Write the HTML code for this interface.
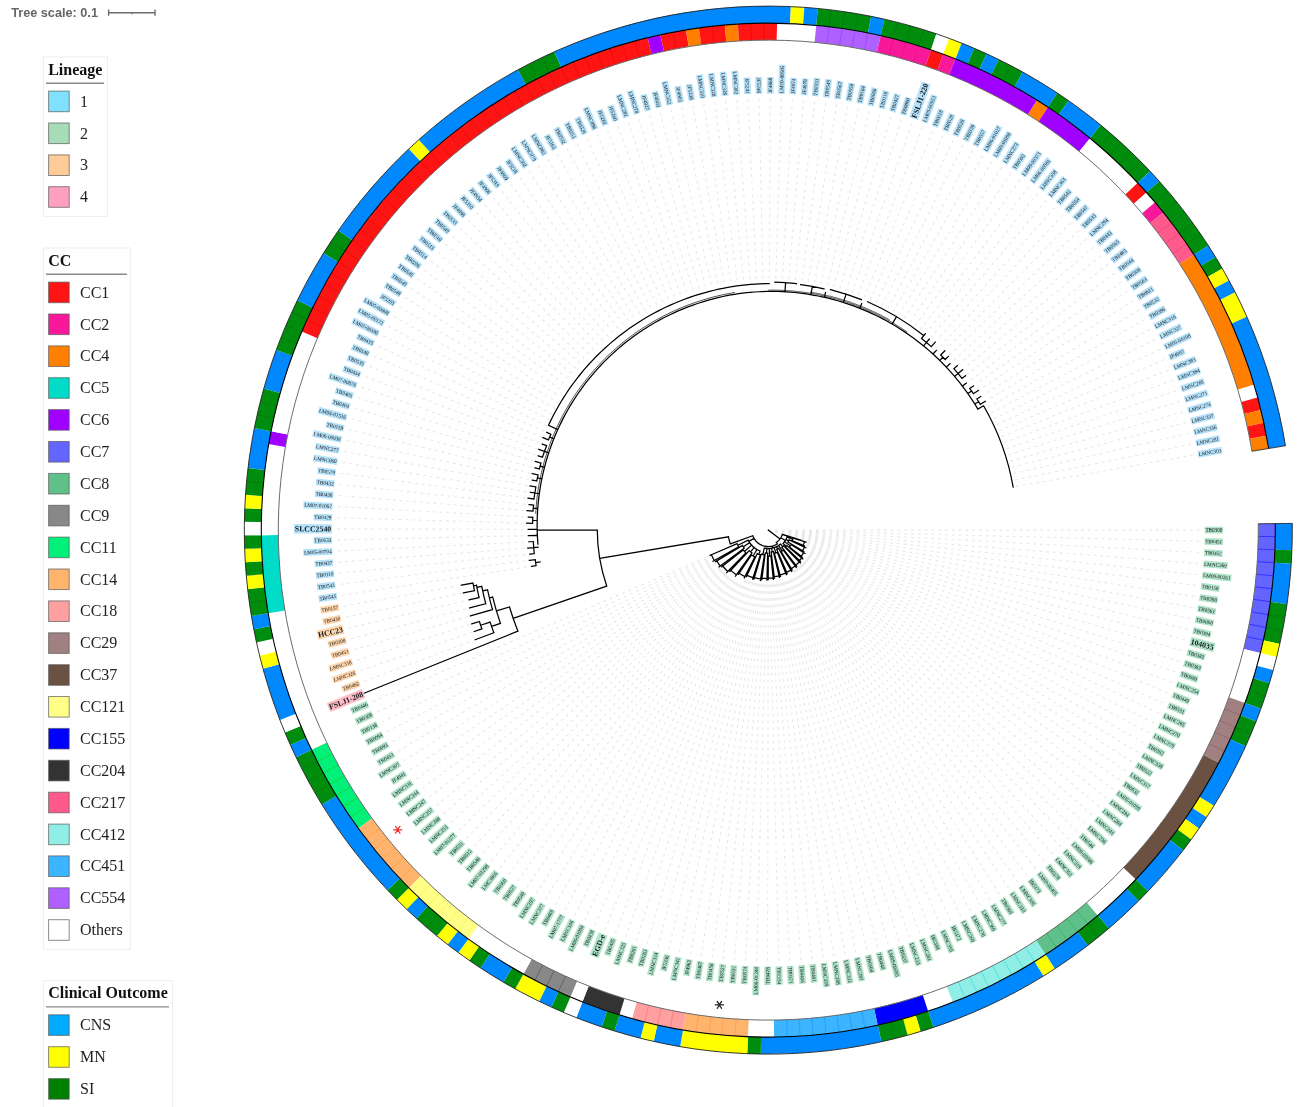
<!DOCTYPE html><html><head><meta charset="utf-8"><style>
html,body{margin:0;padding:0;background:#fff;}
body{width:1298px;height:1107px;overflow:hidden;position:relative;font-family:"Liberation Sans",sans-serif;}
svg{position:absolute;left:0;top:0;will-change:transform;}
</style></head><body>
<svg width="1298" height="1107" viewBox="0 0 1298 1107">
<path d="M775.10,530.10L1202.30,530.10M775.10,530.28L1202.16,541.29M775.09,530.45L1201.72,552.46M775.08,530.63L1201.00,563.63M775.06,530.80L1200.00,574.77M775.04,530.97L1198.70,585.88M775.02,531.15L1197.12,596.95M774.99,531.32L1195.26,607.98M774.96,531.49L1193.11,618.96M774.92,531.66L1190.68,629.88M774.88,531.83L1187.96,640.73M774.83,532.00L1184.97,651.51M807.16,542.52L1181.71,662.21M806.83,543.52L1178.16,672.82M806.47,544.51L1174.35,683.33M806.09,545.48L1170.27,693.75M805.68,546.45L1165.91,704.05M811.40,550.30L1161.30,714.24M810.87,551.40L1156.42,724.31M810.31,552.49L1151.29,734.25M809.71,553.57L1145.90,744.05M809.10,554.62L1140.26,753.71M808.45,555.67L1134.37,763.22M807.78,556.69L1128.25,772.58M807.08,557.70L1121.88,781.77M806.36,558.69L1115.27,790.80M805.61,559.66L1108.44,799.66M804.83,560.62L1101.38,808.33M804.03,561.55L1094.10,816.83M803.21,562.46L1086.60,825.13M802.36,563.35L1078.89,833.23M801.50,564.21L1070.98,841.14M800.61,565.06L1062.86,848.83M799.69,565.88L1054.55,856.32M798.76,566.68L1046.04,863.59M797.81,567.45L1037.36,870.64M796.84,568.20L1028.49,877.46M795.85,568.92L1019.45,884.05M794.84,569.62L1010.25,890.40M793.81,570.29L1000.88,896.52M792.76,570.93L991.36,902.39M795.05,577.47L981.69,908.02M793.82,578.14L971.88,913.39M792.57,578.79L961.94,918.51M791.31,579.39L951.86,923.37M790.03,579.97L941.66,927.97M788.74,580.51L931.35,932.31M787.43,581.02L920.93,936.37M786.11,581.50L910.41,940.17M784.78,581.94L899.80,943.70M783.44,582.35L889.09,946.95M782.09,582.72L878.31,949.93M780.73,583.06L867.45,952.62M779.36,583.36L856.53,955.04M777.98,583.63L845.55,957.17M776.60,583.86L834.52,959.02M775.21,584.06L823.44,960.58M773.82,584.22L812.33,961.86M772.42,584.34L801.19,962.85M771.02,584.43L790.02,963.56M769.62,584.48L778.85,963.97M768.22,584.50L767.66,964.10M766.82,584.48L756.48,963.94M765.42,584.42L745.30,963.49M764.02,584.33L734.14,962.75M762.62,584.20L723.00,961.73M761.23,584.04L711.89,960.42M759.84,583.84L700.82,958.82M758.46,583.60L689.79,956.94M757.08,583.33L678.82,954.77M755.72,583.02L667.90,952.33M754.36,582.68L657.05,949.60M753.01,582.31L646.28,946.59M751.66,581.89L635.59,943.31M750.34,581.45L624.98,939.75M749.02,580.97L614.47,935.92M747.71,580.45L604.06,931.82M746.42,579.91L593.76,927.46M745.15,579.33L583.58,922.83M740.83,584.79L573.52,917.94M739.43,584.06L563.59,912.79M738.05,583.30L553.80,907.38M736.69,582.51L544.14,901.73M735.35,581.67L534.64,895.83M734.03,580.81L525.29,889.69M732.74,579.91L516.11,883.31M731.47,578.97L507.09,876.69M730.22,578.01L498.24,869.84M729.00,577.01L489.58,862.77M727.80,575.98L481.09,855.47M726.63,574.92L472.80,847.96M725.49,573.83L464.71,840.24M724.38,572.72L456.82,832.32M723.29,571.57L449.13,824.19M722.24,570.40L441.66,815.87M721.22,569.20L434.40,807.35M720.22,567.97L427.37,798.65M713.82,570.79L420.56,789.78M712.78,569.37L413.98,780.73M711.79,567.93L407.64,771.52M710.84,566.46L401.54,762.14M709.92,564.96L395.68,752.61M709.04,563.45L390.07,742.94M708.20,561.91L384.71,733.12M707.40,560.35L379.61,723.16M706.64,558.77L374.76,713.08M705.92,557.17L370.17,702.88M468.95,642.06L361.80,682.13M472.59,632.09L358.02,671.61M470.06,624.44L354.51,660.99M467.73,616.72L351.27,650.28M465.60,608.94L348.31,639.49M463.67,601.12L345.63,628.63M461.94,593.24L343.23,617.71M453.72,586.52L341.12,606.72M526.31,567.09L339.28,595.69M525.44,560.85L337.74,584.61M524.73,554.58L336.47,573.49M524.18,548.29L335.50,562.35M523.79,541.99L334.81,551.19M523.56,535.69L334.41,540.01M523.50,529.38L334.30,528.82M523.60,523.07L334.48,517.64M523.86,516.77L334.94,506.46M524.29,510.47L335.70,495.30M524.88,504.19L336.74,484.16M525.62,497.92L338.07,473.06M526.53,491.68L339.68,461.99M527.60,485.46L341.58,450.96M528.83,479.27L343.76,439.99M530.22,473.12L346.22,429.08M531.77,467.00L348.96,418.24M533.48,460.93L351.99,407.47M535.34,454.90L355.29,396.78M537.35,448.92L358.86,386.18M539.52,442.99L362.70,375.67M541.84,437.13L366.82,365.27M544.31,431.32L371.20,354.98M546.93,425.58L375.84,344.80M549.70,419.91L380.75,334.75M552.61,414.31L385.91,324.83M555.67,408.79L391.33,315.04M558.87,403.35L397.00,305.40M556.48,394.33L402.91,295.90M560.05,388.92L409.07,286.56M563.75,383.60L415.47,277.39M567.60,378.37L422.10,268.38M571.57,373.25L428.96,259.54M575.68,368.23L436.04,250.89M579.92,363.32L443.35,242.42M584.28,358.52L450.87,234.14M588.76,353.84L458.60,226.05M593.36,349.27L466.54,218.17M598.08,344.82L474.68,210.50M602.91,340.49L483.02,203.04M607.86,336.30L491.54,195.80M612.90,332.22L500.25,188.77M618.05,328.29L509.13,181.98M623.31,324.48L518.19,175.41M628.65,320.81L527.42,169.09M634.09,317.28L536.80,163.00M639.62,313.89L546.34,157.15M645.24,310.65L556.02,151.56M650.93,307.55L565.85,146.21M656.71,304.60L575.81,141.12M662.56,301.80L585.90,136.29M668.48,299.15L596.11,131.72M674.46,296.65L606.43,127.42M680.51,294.31L616.86,123.38M686.61,292.13L627.40,119.61M692.77,290.10L638.02,116.11M698.99,288.24L648.73,112.89M705.24,286.53L659.53,109.95M711.54,284.99L670.39,107.29M717.88,283.60L681.32,104.91M724.25,282.39L692.31,102.80M730.64,281.33L703.34,100.99M737.07,280.45L714.43,99.46M743.51,279.72L725.54,98.21M749.97,279.17L736.69,97.25M756.45,278.78L747.85,96.58M762.93,278.56L759.03,96.20M769.41,278.50L770.22,96.10M775.90,278.61L781.40,96.30M782.37,278.89L792.58,96.78M788.84,279.34L803.74,97.55M795.30,279.95L814.87,98.61M801.74,280.73L825.98,99.95M808.15,281.68L837.04,101.58M814.54,282.79L848.07,103.49M820.90,284.06L859.03,105.69M827.22,285.50L869.94,108.17M833.51,287.10L880.78,110.93M839.75,288.86L891.55,113.97M845.94,290.78L902.23,117.28M852.08,292.86L912.83,120.87M858.17,295.10L923.32,124.73M864.20,297.49L933.72,128.86M870.16,300.04L944.01,133.26M876.06,302.74L954.17,137.92M881.88,305.60L964.22,142.84M887.63,308.60L974.14,148.02M893.30,311.75L983.91,153.45M898.88,315.04L993.55,159.13M904.38,318.48L1003.04,165.06M909.79,322.05L1012.37,171.23M915.11,325.77L1021.53,177.64M920.32,329.62L1030.53,184.28M929.69,328.30L1039.36,191.16M930.45,337.72L1048.00,198.25M939.87,336.88L1056.46,205.57M940.15,346.33L1064.73,213.11M949.60,345.98L1072.80,220.85M949.39,355.43L1080.67,228.80M953.83,360.16L1088.33,236.95M958.15,364.99L1095.78,245.30M967.58,365.61L1103.01,253.83M966.40,375.00L1110.02,262.55M970.34,380.15L1116.80,271.45M979.70,381.50L1123.35,280.51M983.46,387.00L1129.67,289.75M987.07,392.59L1135.74,299.14M990.54,398.27L1141.57,308.69M987.93,407.36L1147.15,318.38M991.02,413.06L1152.49,328.21M993.96,418.84L1157.56,338.18M996.76,424.69L1162.38,348.28M999.40,430.62L1166.93,358.49M1001.88,436.61L1171.22,368.83M1004.22,442.66L1175.25,379.26M1006.39,448.77L1179.00,389.80M1008.41,454.93L1182.48,400.43M1010.27,461.14L1185.68,411.15M1011.96,467.40L1188.61,421.95M1013.50,473.70L1191.26,432.81M1014.87,480.04L1193.62,443.75M1016.08,486.41L1195.71,454.74" fill="none" stroke="#e7e7e7" stroke-width="1.1" stroke-dasharray="2.8 4.0"/>
<path d="M768.30,530.10L780.04,538.95M782.36,534.40A14.7,14.7 0 0 1 776.31,542.43M793.07,538.01A26,26 0 0 1 792.12,540.52M793.07,538.01L804.50,541.67M792.12,540.52L803.11,545.33M804.50,541.67A38,38 0 0 1 803.11,545.33M804.50,541.67L805.93,542.12M803.11,545.33L804.49,545.93M787.01,537.16L792.63,539.28M789.13,539.86A23,23 0 0 1 788.01,541.95M789.13,539.86L804.52,547.07M788.01,541.95L802.58,550.71M804.52,547.07A40,40 0 0 1 802.58,550.71M804.52,547.07L805.88,547.71M802.58,550.71L803.87,551.48M785.95,539.51L788.60,540.92M791.07,544.60A27,27 0 0 1 789.46,546.87M791.07,544.60L803.73,552.66M789.46,546.87L801.22,556.19M803.73,552.66A42,42 0 0 1 801.22,556.19M803.73,552.66L804.99,553.47M801.22,556.19L802.39,557.12M784.59,541.70L790.30,545.76M786.72,545.49A24,24 0 0 1 785.48,546.86M786.72,545.49L801.68,557.99M785.48,546.86L799.43,560.48M801.68,557.99A43.5,43.5 0 0 1 799.43,560.48M801.68,557.99L802.84,558.95M799.43,560.48L800.50,561.53M783.14,543.51L786.11,546.19M787.01,537.16A20,20 0 0 1 783.14,543.51M783.31,534.69L800.81,540.04M783.29,534.77L800.76,540.21M780.85,537.75L785.37,540.51M783.64,545.87A22,22 0 0 1 781.94,547.36M783.64,545.87L799.33,561.99M781.94,547.36L795.89,565.02M799.33,561.99A44.5,44.5 0 0 1 795.89,565.02M799.33,561.99L800.38,563.07M795.89,565.02L796.82,566.19M780.50,544.01L782.81,546.64M783.29,550.11A25,25 0 0 1 781.15,551.55M783.29,550.11L795.28,566.12M781.15,551.55L791.43,568.70M795.28,566.12A45,45 0 0 1 791.43,568.70M795.28,566.12L796.18,567.32M791.43,568.70L792.20,569.99M778.61,545.46L782.24,550.85M778.63,548.39A21,21 0 0 1 776.69,549.35M778.63,548.39L790.92,570.16M776.69,549.35L786.68,572.27M790.92,570.16A46,46 0 0 1 786.68,572.27M790.92,570.16L791.66,571.46M786.68,572.27L787.27,573.65M776.55,546.66L777.67,548.89M777.32,552.34A24,24 0 0 1 774.38,553.32M777.32,552.34L785.77,573.19M774.38,553.32L780.09,575.08M785.77,573.19A46.5,46.5 0 0 1 780.09,575.08M785.77,573.19L786.33,574.58M780.09,575.08L780.47,576.53M774.13,547.66L775.87,552.88M773.33,551.52A22,22 0 0 1 771.10,551.92M773.33,551.52L779.04,575.86M771.10,551.92L774.27,576.72M779.04,575.86A47,47 0 0 1 774.27,576.72M779.04,575.86L779.38,577.32M774.27,576.72L774.46,578.21M771.59,548.30L772.22,551.75M770.94,555.97A26,26 0 0 1 768.26,556.10M770.94,555.97L773.17,577.85M768.26,556.10L768.23,578.10M773.17,577.85A48,48 0 0 1 768.23,578.10M773.17,577.85L773.32,579.34M768.23,578.10L768.23,579.60M769.23,548.58L769.60,556.07M767.67,553.09A23,23 0 0 1 765.31,552.90M767.67,553.09L766.98,578.58M765.31,552.90L762.00,578.19M766.98,578.58A48.5,48.5 0 0 1 762.00,578.19M766.98,578.58L766.94,580.08M762.00,578.19L761.80,579.68M766.84,548.54L766.49,553.03M764.41,554.80A25,25 0 0 1 761.27,554.09M764.41,554.80L760.60,579.00M761.27,554.09L754.38,577.60M760.60,579.00A49.5,49.5 0 0 1 754.38,577.60M760.60,579.00L760.37,580.48M754.38,577.60L753.96,579.04M764.25,548.15L762.83,554.49M780.50,544.01A18.5,18.5 0 0 1 764.25,548.15M760.35,554.85A26,26 0 0 1 757.23,553.63M760.35,554.85L753.01,577.70M757.23,553.63L747.02,575.35M753.01,577.70A50,50 0 0 1 747.02,575.35M753.01,577.70L752.55,579.13M747.02,575.35L746.38,576.70M760.05,551.03L758.77,554.29M754.84,556.91A30,30 0 0 1 751.50,554.96M754.84,556.91L744.96,576.57M751.50,554.96L739.18,573.18M744.96,576.57A52,52 0 0 1 739.18,573.18M744.96,576.57L744.29,577.91M739.18,573.18L738.34,574.43M756.93,549.51L753.14,555.99M752.03,552.89A28,28 0 0 1 749.24,550.61M752.03,552.89L736.34,574.86M749.24,550.61L730.85,570.38M736.34,574.86A55,55 0 0 1 730.85,570.38M736.34,574.86L735.47,576.08M730.85,570.38L729.83,571.48M754.07,547.53L750.60,551.79M745.92,552.97A32,32 0 0 1 743.16,549.90M745.92,552.97L727.73,571.55M743.16,549.90L722.74,565.99M727.73,571.55A58,58 0 0 1 722.74,565.99M727.73,571.55L726.68,572.62M722.74,565.99L721.56,566.92M751.56,545.13L744.49,551.48M744.26,548.05A30,30 0 0 1 742.54,545.48M744.26,548.05L720.23,566.00M742.54,545.48L716.79,560.86M720.23,566.00A60,60 0 0 1 716.79,560.86M720.23,566.00L719.02,566.90M716.79,560.86L715.50,561.63M749.60,542.62L743.37,546.79M738.67,546.77A34,34 0 0 1 737.11,543.64M738.67,546.77L714.27,560.51M737.11,543.64L711.42,554.78M714.27,560.51A62,62 0 0 1 711.42,554.78M714.27,560.51L712.96,561.24M711.42,554.78L710.05,555.38M748.15,540.11L737.85,545.22M760.05,551.03A22.5,22.5 0 0 1 748.15,540.11M776.31,542.43L777.29,543.94M777.29,543.94A16.5,16.5 0 0 1 754.01,538.35M772.38,546.09L772.87,548.03M754.01,538.35L748.81,541.35M753.09,546.68A22.5,22.5 0 0 1 748.81,541.35M752.80,535.74L730.34,543.92M754.01,538.35A16.5,16.5 0 0 1 752.80,535.74M730.34,543.92A40.4,40.4 0 0 1 728.45,536.77M728.45,536.77L599.65,558.32M606.71,586.05A171,171 0 0 1 597.30,530.10M597.30,530.10L538.00,530.10M606.71,586.05L513.16,618.45M517.93,631.16A270,270 0 0 1 509.49,607.01M517.93,631.16L363.99,693.29M509.49,607.01L496.45,610.88M500.47,623.37A283.6,283.6 0 0 1 492.71,597.03M500.47,623.37L491.60,626.46M493.87,632.74A293,293 0 0 1 490.12,622.10M493.87,632.74L475.13,639.75M490.12,622.10L480.62,625.24M481.86,628.89A303,303 0 0 1 479.41,621.48M481.86,628.89L474.30,631.50M479.41,621.48L471.78,623.89M492.71,597.03L489.41,597.83M492.52,609.57A287,287 0 0 1 487.57,589.77M492.52,609.57L470.42,615.94M487.57,589.77L482.68,590.81M485.73,603.70A292,292 0 0 1 481.76,586.32M485.73,603.70L469.66,607.88M481.76,586.32L476.86,587.28M479.06,597.53A297,297 0 0 1 476.46,585.24M479.06,597.53L469.02,599.87M476.46,585.24L473.52,585.80M474.48,590.66A300,300 0 0 1 473.01,583.06M474.48,590.66L463.41,592.94M473.01,583.06L461.30,585.17M537.93,544.19L537.64,540.33L537.42,536.47L537.26,532.61L537.17,528.74L537.14,524.87L537.18,520.99L537.28,517.12L537.45,513.25L537.68,509.38L537.98,505.51L538.34,501.65L538.76,497.79L539.26,493.94L539.81,490.09L540.43,486.26L541.12,482.43L541.86,478.62L542.68,474.81L543.55,471.02L544.50,467.24L545.50,463.48L546.57,459.74L547.70,456.01L548.89,452.30L550.15,448.60L551.46,444.93L552.84,441.28L554.28,437.65L555.79,434.05L557.35,430.47L558.97,426.91L560.66,423.39L562.40,419.88L564.20,416.41L566.06,412.97L567.98,409.56L569.95,406.17L571.99,402.83L574.08,399.51L576.22,396.23L578.42,392.98L580.68,389.77L582.99,386.60L585.35,383.47L587.77,380.37L590.24,377.31L592.76,374.30L595.33,371.33L597.95,368.39L600.63,365.51L603.35,362.66L606.12,359.86L608.93,357.11L611.80,354.41L614.71,351.75L617.66,349.14L620.66,346.57L623.70,344.06L626.79,341.60L629.91,339.19L633.08,336.83L636.29,334.53L639.54,332.27L642.82,330.07L646.15,327.93L649.51,325.84L652.90,323.81L656.34,321.83L659.80,319.91L663.30,318.05L666.83,316.25L670.39,314.50L673.98,312.82L677.60,311.19L681.24,309.63L684.92,308.12L688.62,306.68L692.34,305.30L696.09,303.98L699.87,302.72L703.66,301.53L707.48,300.40L711.31,299.33L715.16,298.33L719.03,297.39L722.92,296.51L726.82,295.70L730.74,294.96L734.67,294.28L738.62,293.67L742.57,293.15L746.54,292.70L750.51,292.31L754.49,292.00L758.48,291.75L762.47,291.56L766.46,291.44L770.46,291.39L774.46,291.41L778.46,291.49L782.45,291.65L786.45,291.86L790.44,292.15L794.43,292.50L798.41,292.92L802.38,293.40L806.35,293.95L810.31,294.57L814.25,295.26L818.19,296.01L822.12,296.82L826.03,297.71L829.92,298.65L833.80,299.67L837.67,300.75L841.52,301.89L845.34,303.10L849.15,304.37L852.94,305.70L856.70,307.10L860.45,308.57L864.16,310.09L867.85,311.68L871.52,313.33L875.16,315.04L878.77,316.81L882.35,318.64L885.90,320.54L889.42,322.49L892.91,324.50L896.36,326.57L899.78,328.70L903.16,330.89L906.51,333.13L909.82,335.43L913.09,337.78L916.32,340.19L919.51,342.66L922.67,345.17L925.78,347.74L928.84,350.37L931.86,353.04L934.84,355.77L937.78,358.54L940.66,361.37L943.50,364.24L946.29,367.16L949.04,370.13L951.73,373.14L954.37,376.20L956.96,379.31L959.51,382.45L961.99,385.64L964.43,388.88L966.81,392.15L969.13,395.46L971.40,398.82L973.62,402.21L975.78,405.64L977.88,409.10M557.71,429.66L548.52,425.27M548.52,425.27L550.49,421.13L552.53,417.03L554.65,412.96L556.85,408.94L559.13,404.95L561.48,401.01L563.90,397.12L566.40,393.27L568.97,389.46L571.61,385.71L574.32,382.00L577.11,378.34L579.96,374.74L582.88,371.19L585.86,367.70L588.91,364.26L592.03,360.88L595.21,357.55L598.45,354.29L601.76,351.09L605.12,347.95L608.55,344.87L612.03,341.86L615.57,338.92L619.16,336.04L622.81,333.22L626.52,330.48L630.27,327.80L634.07,325.20L637.93,322.67L641.83,320.21L645.77,317.82L649.77,315.51L653.80,313.27L657.88,311.11L662.00,309.03L666.16,307.02L670.36,305.09L674.59,303.24L678.86,301.47L683.16,299.78L687.49,298.18L691.85,296.65L696.25,295.20L700.67,293.84L705.11,292.56L709.58,291.37L714.07,290.25L718.59,289.23L723.12,288.28L727.67,287.43L732.24,286.66L736.82,285.97L741.41,285.37L746.02,284.86L750.63,284.43L755.26,284.10L759.89,283.84L764.52,283.68L769.16,283.60M774.79,282.18A248.0,248.0 0 0 1 796.37,283.69M784.97,291.77L785.60,282.70M800.61,284.72A247.5,247.5 0 0 1 823.98,288.94M810.87,294.67L812.34,286.55M830.52,289.52A248.5,248.5 0 0 1 861.39,299.69M843.36,302.46L846.12,294.10M867.59,301.75A249.0,249.0 0 0 1 923.31,335.23M892.11,324.04L896.54,316.67M977.88,409.10L983.59,405.80M983.59,405.80A248.6,248.6 0 0 1 1013.12,486.93M540.10,561.98L535.65,562.61M536.08,565.60A234.91385088168582,234.91385088168582 0 0 1 535.25,559.60M536.08,565.60L531.64,566.28M535.25,559.60L529.29,560.36M538.20,547.25L533.72,547.58M534.24,553.62A235.2339650252433,235.2339650252433 0 0 1 533.34,541.53M534.24,553.62L529.77,554.07M533.72,547.58L527.73,548.03M533.34,541.53L528.85,541.75M537.37,535.37L528.37,535.58M537.18,529.42L528.18,529.39M537.19,520.48L532.69,520.29M532.59,523.33A235.81017048364674,235.81017048364674 0 0 1 532.84,517.26M532.59,523.33L526.59,523.16M532.84,517.26L528.35,517.01M537.74,508.56L533.26,508.14M532.99,511.17A236.06626179849272,236.06626179849272 0 0 1 533.56,505.11M532.99,511.17L527.01,510.69M533.56,505.11L529.09,504.64M539.29,493.71L534.84,493.00M533.96,499.03A236.3863759420502,236.3863759420502 0 0 1 535.88,487.00M533.96,499.03L528.02,498.24M534.84,493.00L530.40,492.29M535.88,487.00L529.98,485.90M541.79,478.97L537.40,477.97M536.75,480.95A236.70649008560767,236.70649008560767 0 0 1 538.10,475.00M536.75,480.95L532.35,480.02M538.10,475.00L532.26,473.61M544.48,467.29L540.15,466.08M539.34,469.02A236.96258140045364,236.96258140045364 0 0 1 540.99,463.14M539.34,469.02L535.00,467.86M540.99,463.14L535.24,461.45M548.69,452.90L544.44,451.41M542.49,457.21A237.28269554401112,237.28269554401112 0 0 1 546.55,445.67M542.49,457.21L538.21,455.83M544.44,451.41L538.78,449.42M546.55,445.67L542.34,444.07M553.82,438.80L549.68,437.04M548.50,439.86A237.6028096875686,237.6028096875686 0 0 1 550.90,434.23M548.50,439.86L542.95,437.58M550.90,434.23L546.78,432.41M923.56,345.90L926.46,342.46M921.57,338.45A245.40251275269225,245.40251275269225 0 0 1 931.24,346.60M921.57,338.45L925.32,333.76M926.46,342.46L929.36,339.02M931.24,346.60L935.22,342.11M939.72,360.44L942.92,357.27M940.68,355.03A245.68795264185403,245.68795264185403 0 0 1 945.13,359.53M940.68,355.03L944.89,350.76M945.13,359.53L948.37,356.41M954.53,376.39L958.00,373.52M953.90,368.69A245.9733925310158,245.9733925310158 0 0 1 961.97,378.46M953.90,368.69L957.30,365.73M958.00,373.52L962.63,369.70M961.97,378.46L965.52,375.69M967.86,393.63L971.57,391.09M969.76,388.48A246.2588324201776,246.2588324201776 0 0 1 973.35,393.72M969.76,388.48L973.44,385.89M973.35,393.72L978.34,390.40M974.76,404.01L978.60,401.66M976.93,398.96A246.42194092827006,246.42194092827006 0 0 1 980.24,404.38M976.93,398.96L980.74,396.57M980.24,404.38L985.40,401.32M824.37,297.32L825.55,292.46M859.75,308.29L861.65,303.66M932.95,354.03L936.37,350.37M946.24,367.11L949.93,363.73M962.33,386.09L966.35,383.11" fill="none" stroke="#000" stroke-width="1.25" stroke-linecap="square"/>
<path d="M535.72,513.84L535.82,511.85L535.94,509.87L536.08,507.89L536.24,505.91L536.41,503.94L536.60,501.96L536.80,499.98L537.03,498.01L537.27,496.04L537.52,494.06L537.80,492.10L538.09,490.13L538.39,488.16L538.72,486.20L539.06,484.24L539.41,482.28L539.79,480.33L540.18,478.38L540.59,476.43L541.01,474.48L541.45,472.54L541.91,470.60L542.38,468.67L542.87,466.73L543.38,464.81L543.90,462.88L544.44,460.96L545.00,459.05L545.57,457.14L546.16,455.23L546.76,453.33L547.38,451.44L548.02,449.54L548.68,447.66L549.35,445.78L550.03,443.90L550.73,442.03L551.45,440.17L552.19,438.31L552.94,436.46L553.70,434.61L554.48,432.77L555.28,430.94L556.10,429.11L556.92,427.29L557.77,425.48L558.63,423.67L559.50,421.87L560.40,420.08L561.30,418.29L562.22,416.52L563.16,414.75L564.11,412.98L565.08,411.23L566.06,409.48L567.06,407.74L568.07,406.01L569.10,404.29L570.14,402.58L571.20,400.87L572.27,399.18L573.36,397.49L574.46,395.81L575.57,394.15L576.70,392.49L577.84,390.84L579.00,389.19L580.17,387.56L581.36,385.94L582.56,384.33L583.78,382.73L585.00,381.14L586.24,379.56L587.50,377.99L588.77,376.43L590.05,374.88L591.35,373.34L592.65,371.81L593.98,370.29L595.31,368.79L596.66,367.29L598.02,365.81L599.39,364.33L600.78,362.87L602.18,361.42L603.59,359.99L605.02,358.56L606.45,357.15L607.90,355.74L609.36,354.35L610.84,352.98L612.32,351.61L613.82,350.26L615.33,348.92L616.85,347.59L618.38,346.28L619.92,344.97L621.47,343.69L623.04,342.41L624.62,341.15L626.20,339.90L627.80,338.66L629.41,337.44L631.03,336.23L632.66,335.03L634.30,333.85L635.95,332.68L637.62,331.53L639.29,330.39L640.97,329.26L642.66,328.15L644.36,327.05L646.07,325.97L647.79,324.90L649.52,323.85L651.26,322.81L653.01,321.78L654.76,320.77L656.53,319.77L658.30,318.79L660.08,317.83L661.87,316.88L663.67,315.94L665.48,315.02L667.30,314.12L669.12,313.23L670.95,312.35L672.79,311.49L674.64,310.65L676.49,309.82L678.36,309.01L680.22,308.21L682.10,307.43L683.98,306.67L685.87,305.92L687.77,305.18L689.67,304.47L691.58,303.77L693.50,303.08L695.42,302.41L697.34,301.76L699.28,301.12L701.22,300.50L703.16,299.90L705.11,299.32L707.07,298.75L709.03,298.19L710.99,297.65L712.96,297.13L714.94,296.63L716.91,296.14L718.90,295.67L720.89,295.22L722.88,294.78L724.87,294.36L726.87,293.96L728.88,293.58L730.89,293.21L732.90,292.86L734.91,292.52M768.30,290.11L769.22,290.10L770.13,290.10L771.05,290.09L771.97,290.09L772.88,290.10L773.80,290.10L774.72,290.11L775.63,290.13L776.55,290.15L777.46,290.17L778.38,290.19L779.30,290.22L780.21,290.25L781.13,290.29L782.05,290.33L782.96,290.37L783.88,290.41L784.79,290.46L785.71,290.52L786.63,290.57L787.54,290.63L788.46,290.69L789.37,290.76L790.29,290.83L791.20,290.91L792.11,290.98L793.03,291.06L793.94,291.15L794.86,291.23L795.77,291.33L796.68,291.42L797.59,291.52L798.51,291.62L799.42,291.73L800.33,291.83L801.24,291.95L802.15,292.06L803.06,292.18L803.97,292.30L804.88,292.43L805.79,292.56L806.70,292.69L807.61,292.83L808.51,292.97L809.42,293.11L810.33,293.26L811.23,293.41L812.14,293.56L813.04,293.72L813.95,293.88L814.85,294.04L815.76,294.21L816.66,294.38L817.56,294.56L818.46,294.74L819.36,294.92L820.26,295.10L821.16,295.29L822.06,295.48L822.96,295.68L823.86,295.88L824.75,296.08L825.65,296.28L826.55,296.49L827.44,296.70L828.33,296.92L829.23,297.14L830.12,297.36L831.01,297.59L831.90,297.82L832.79,298.05L833.68,298.29L834.57,298.53L835.45,298.77L836.34,299.02L837.22,299.27L838.11,299.52L838.99,299.78L839.87,300.04L840.76,300.30L841.64,300.57L842.52,300.84L843.39,301.11L844.27,301.39L845.15,301.67L846.02,301.95L846.90,302.24L847.77,302.53L848.64,302.82L849.52,303.12L850.39,303.42L851.25,303.72L852.12,304.03L852.99,304.34L853.85,304.65L854.72,304.97L855.58,305.29L856.44,305.61L857.31,305.94L858.16,306.27L859.02,306.61L859.88,306.94L860.74,307.28L861.59,307.63L862.44,307.97L863.30,308.32L864.15,308.68L865.00,309.03L865.85,309.39L866.69,309.75L867.54,310.12L868.38,310.49L869.22,310.86L870.07,311.24L870.91,311.62L871.74,312.00L872.58,312.39L873.42,312.78L874.25,313.17L875.08,313.56L875.92,313.96L876.75,314.36L877.57,314.77L878.40,315.18L879.23,315.59L880.05,316.00L880.87,316.42L881.69,316.84L882.51,317.26L883.33,317.69L884.15,318.12L884.96,318.55L885.77,318.99L886.58,319.43L887.39,319.87L888.20,320.32L889.01,320.77L889.81,321.22L890.61,321.67L891.41,322.13L892.21,322.59L893.01,323.06L893.81,323.52L894.60,323.99L895.39,324.47L896.18,324.94L896.97,325.42L897.76,325.91L898.55,326.39L899.33,326.88L900.11,327.37L900.89,327.87L901.67,328.36L902.44,328.87L903.22,329.37L903.99,329.88L904.76,330.38L905.53,330.90L906.29,331.41L907.06,331.93M810.26,292.13L810.78,292.22L811.30,292.30L811.82,292.39L812.34,292.48L812.86,292.57L813.38,292.66L813.90,292.75L814.42,292.85L814.94,292.94L815.45,293.04L815.97,293.13L816.49,293.23L817.01,293.33L817.53,293.43L818.05,293.53L818.56,293.63L819.08,293.74L819.60,293.84L820.11,293.95L820.63,294.05L821.15,294.16L821.66,294.27L822.18,294.38L822.69,294.49L823.21,294.61L823.72,294.72L824.24,294.83L824.75,294.95L825.27,295.07L825.78,295.18L826.30,295.30L826.81,295.42L827.32,295.55L827.84,295.67L828.35,295.79L828.86,295.92L829.38,296.04L829.89,296.17L830.40,296.30L830.91,296.43L831.42,296.56L831.93,296.69L832.45,296.82L832.96,296.96L833.47,297.09L833.98,297.23L834.49,297.37L835.00,297.50L835.51,297.64L836.01,297.78L836.52,297.92L837.03,298.07L837.54,298.21L838.05,298.36L838.55,298.50L839.06,298.65L839.57,298.80L840.07,298.95L840.58,299.10L841.09,299.25L841.59,299.40L842.10,299.56L842.60,299.71L843.11,299.87L843.61,300.02L844.12,300.18L844.62,300.34L845.12,300.50L845.62,300.66L846.13,300.83L846.63,300.99L847.13,301.16L847.63,301.32L848.13,301.49L848.64,301.66L849.14,301.83L849.64,302.00L850.14,302.17L850.64,302.34L851.13,302.51L851.63,302.69L852.13,302.87L852.63,303.04L853.13,303.22L853.62,303.40L854.12,303.58L854.62,303.76L855.11,303.94L855.61,304.13L856.10,304.31L856.60,304.50L857.09,304.68L857.59,304.87L858.08,305.06L858.57,305.25L859.07,305.44L859.56,305.63L860.05,305.83L860.54,306.02L861.04,306.22L861.53,306.41L862.02,306.61L862.51,306.81L863.00,307.01L863.49,307.21L863.97,307.41L864.46,307.62L864.95,307.82L865.44,308.02L865.93,308.23L866.41,308.44L866.90,308.65L867.38,308.86L867.87,309.07L868.35,309.28L868.84,309.49L869.32,309.70L869.81,309.92L870.29,310.13L870.77,310.35L871.25,310.57L871.73,310.79L872.22,311.01L872.70,311.23L873.18,311.45L873.66,311.67L874.14,311.90L874.61,312.12L875.09,312.35L875.57,312.58L876.05,312.80L876.53,313.03L877.00,313.26L877.48,313.50L877.95,313.73L878.43,313.96L878.90,314.20L879.38,314.43L879.85,314.67L880.32,314.91L880.80,315.15L881.27,315.39L881.74,315.63L882.21,315.87L882.68,316.11L883.15,316.35L883.62,316.60L884.09,316.85L884.56,317.09L885.02,317.34L885.49,317.59L885.96,317.84L886.42,318.09L886.89,318.34L887.35,318.60L887.82,318.85L888.28,319.11L888.75,319.36L889.21,319.62L889.67,319.88" fill="none" stroke="#000" stroke-width="0.7"/>
<path d="M1275.26,523.57A507.0,507.0 0 0 1 1260.18,653.01L1243.68,648.89A490.0,490.0 0 0 0 1258.26,523.79Z" fill="#6464ff"/>
<path d="M1260.18,653.01A507.0,507.0 0 0 1 1244.92,702.98L1228.93,697.18A490.0,490.0 0 0 0 1243.68,648.89Z" fill="#ffffff"/>
<path d="M1244.92,702.98A507.0,507.0 0 0 1 1218.74,762.80L1203.64,755.00A490.0,490.0 0 0 0 1228.93,697.18Z" fill="#a08080"/>
<path d="M1218.74,762.80A507.0,507.0 0 0 1 1135.67,879.52L1123.35,867.80A490.0,490.0 0 0 0 1203.64,755.00Z" fill="#6b5142"/>
<path d="M1135.67,879.52A507.0,507.0 0 0 1 1097.75,915.47L1086.71,902.55A490.0,490.0 0 0 0 1123.35,867.80Z" fill="#ffffff"/>
<path d="M1097.75,915.47A507.0,507.0 0 0 1 1045.50,954.61L1036.20,940.38A490.0,490.0 0 0 0 1086.71,902.55Z" fill="#60c08a"/>
<path d="M1045.50,954.61A507.0,507.0 0 0 1 952.71,1002.37L946.53,986.54A490.0,490.0 0 0 0 1036.20,940.38Z" fill="#90eee6"/>
<path d="M952.71,1002.37A507.0,507.0 0 0 1 928.13,1011.25L922.77,995.12A490.0,490.0 0 0 0 946.53,986.54Z" fill="#ffffff"/>
<path d="M928.13,1011.25A507.0,507.0 0 0 1 877.76,1025.14L874.09,1008.54A490.0,490.0 0 0 0 922.77,995.12Z" fill="#0000ff"/>
<path d="M877.76,1025.14A507.0,507.0 0 0 1 774.09,1037.07L773.89,1020.07A490.0,490.0 0 0 0 874.09,1008.54Z" fill="#3cb4ff"/>
<path d="M774.09,1037.07A507.0,507.0 0 0 1 747.96,1036.69L748.64,1019.71A490.0,490.0 0 0 0 773.89,1020.07Z" fill="#ffffff"/>
<path d="M747.96,1036.69A507.0,507.0 0 0 1 683.02,1029.88L685.88,1013.12A490.0,490.0 0 0 0 748.64,1019.71Z" fill="#ffb46e"/>
<path d="M683.02,1029.88A507.0,507.0 0 0 1 632.04,1018.45L636.61,1002.07A490.0,490.0 0 0 0 685.88,1013.12Z" fill="#ffa0a0"/>
<path d="M632.04,1018.45A507.0,507.0 0 0 1 619.50,1014.77L624.49,998.52A490.0,490.0 0 0 0 636.61,1002.07Z" fill="#ffffff"/>
<path d="M619.50,1014.77A507.0,507.0 0 0 1 582.50,1001.83L588.73,986.01A490.0,490.0 0 0 0 624.49,998.52Z" fill="#333333"/>
<path d="M582.50,1001.83A507.0,507.0 0 0 1 570.41,996.88L577.04,981.23A490.0,490.0 0 0 0 588.73,986.01Z" fill="#ffffff"/>
<path d="M570.41,996.88A507.0,507.0 0 0 1 523.42,974.04L531.63,959.15A490.0,490.0 0 0 0 577.04,981.23Z" fill="#888888"/>
<path d="M523.42,974.04A507.0,507.0 0 0 1 468.39,938.88L478.45,925.18A490.0,490.0 0 0 0 531.63,959.15Z" fill="#ffffff"/>
<path d="M468.39,938.88A507.0,507.0 0 0 1 409.01,887.81L421.05,875.82A490.0,490.0 0 0 0 478.45,925.18Z" fill="#ffff88"/>
<path d="M409.01,887.81A507.0,507.0 0 0 1 358.19,828.20L371.95,818.20A490.0,490.0 0 0 0 421.05,875.82Z" fill="#ffb46e"/>
<path d="M358.19,828.20A507.0,507.0 0 0 1 311.36,749.77L326.68,742.40A490.0,490.0 0 0 0 371.95,818.20Z" fill="#00f07a"/>
<path d="M311.36,749.77A507.0,507.0 0 0 1 268.15,613.17L284.92,610.39A490.0,490.0 0 0 0 326.68,742.40Z" fill="#ffffff"/>
<path d="M268.15,613.17A507.0,507.0 0 0 1 261.33,535.14L278.32,534.97A490.0,490.0 0 0 0 284.92,610.39Z" fill="#00dcc8"/>
<path d="M261.33,535.14A507.0,507.0 0 0 1 268.65,444.08L285.40,446.97A490.0,490.0 0 0 0 278.32,534.97Z" fill="#ffffff"/>
<path d="M268.65,444.08A507.0,507.0 0 0 1 271.03,431.23L287.71,434.55A490.0,490.0 0 0 0 285.40,446.97Z" fill="#a000ff"/>
<path d="M271.03,431.23A507.0,507.0 0 0 1 301.81,331.52L317.45,338.18A490.0,490.0 0 0 0 287.71,434.55Z" fill="#ffffff"/>
<path d="M301.81,331.52A507.0,507.0 0 0 1 647.57,37.69L651.61,54.20A490.0,490.0 0 0 0 317.45,338.18Z" fill="#ff1414"/>
<path d="M647.57,37.69A507.0,507.0 0 0 1 660.30,34.74L663.92,51.35A490.0,490.0 0 0 0 651.61,54.20Z" fill="#a000ff"/>
<path d="M660.30,34.74A507.0,507.0 0 0 1 685.97,29.83L688.73,46.60A490.0,490.0 0 0 0 663.92,51.35Z" fill="#ff1414"/>
<path d="M685.97,29.83A507.0,507.0 0 0 1 698.89,27.87L701.21,44.71A490.0,490.0 0 0 0 688.73,46.60Z" fill="#ff8000"/>
<path d="M698.89,27.87A507.0,507.0 0 0 1 724.86,24.96L726.31,41.90A490.0,490.0 0 0 0 701.21,44.71Z" fill="#ff1414"/>
<path d="M724.86,24.96A507.0,507.0 0 0 1 737.89,24.01L738.91,40.98A490.0,490.0 0 0 0 726.31,41.90Z" fill="#ff8000"/>
<path d="M737.89,24.01A507.0,507.0 0 0 1 777.07,23.18L776.78,40.17A490.0,490.0 0 0 0 738.91,40.98Z" fill="#ff1414"/>
<path d="M777.07,23.18A507.0,507.0 0 0 1 816.21,25.37L814.60,42.29A490.0,490.0 0 0 0 776.78,40.17Z" fill="#ffffff"/>
<path d="M816.21,25.37A507.0,507.0 0 0 1 880.68,35.71L876.91,52.29A490.0,490.0 0 0 0 814.60,42.29Z" fill="#b060ff"/>
<path d="M880.68,35.71A507.0,507.0 0 0 1 930.96,49.90L925.51,66.00A490.0,490.0 0 0 0 876.91,52.29Z" fill="#f8189a"/>
<path d="M930.96,49.90A507.0,507.0 0 0 1 943.28,54.25L937.41,70.21A490.0,490.0 0 0 0 925.51,66.00Z" fill="#ff1414"/>
<path d="M943.28,54.25A507.0,507.0 0 0 1 955.49,58.92L949.21,74.72A490.0,490.0 0 0 0 937.41,70.21Z" fill="#f8189a"/>
<path d="M955.49,58.92A507.0,507.0 0 0 1 1037.00,100.16L1027.99,114.58A490.0,490.0 0 0 0 949.21,74.72Z" fill="#a000ff"/>
<path d="M1037.00,100.16A507.0,507.0 0 0 1 1047.99,107.23L1038.61,121.41A490.0,490.0 0 0 0 1027.99,114.58Z" fill="#ff8000"/>
<path d="M1047.99,107.23A507.0,507.0 0 0 1 1090.03,138.26L1079.24,151.40A490.0,490.0 0 0 0 1038.61,121.41Z" fill="#a000ff"/>
<path d="M1090.03,138.26A507.0,507.0 0 0 1 1137.72,182.86L1125.33,194.50A490.0,490.0 0 0 0 1079.24,151.40Z" fill="#ffffff"/>
<path d="M1137.72,182.86A507.0,507.0 0 0 1 1146.54,192.49L1133.86,203.81A490.0,490.0 0 0 0 1125.33,194.50Z" fill="#ff1414"/>
<path d="M1146.54,192.49A507.0,507.0 0 0 1 1155.12,202.35L1142.15,213.34A490.0,490.0 0 0 0 1133.86,203.81Z" fill="#ffffff"/>
<path d="M1155.12,202.35A507.0,507.0 0 0 1 1163.44,212.43L1150.19,223.08A490.0,490.0 0 0 0 1142.15,213.34Z" fill="#f8189a"/>
<path d="M1163.44,212.43A507.0,507.0 0 0 1 1194.03,254.78L1179.76,264.01A490.0,490.0 0 0 0 1150.19,223.08Z" fill="#ff5a8c"/>
<path d="M1194.03,254.78A507.0,507.0 0 0 1 1254.05,384.87L1237.77,389.74A490.0,490.0 0 0 0 1179.76,264.01Z" fill="#ff8000"/>
<path d="M1254.05,384.87A507.0,507.0 0 0 1 1257.64,397.44L1241.23,401.89A490.0,490.0 0 0 0 1237.77,389.74Z" fill="#ffffff"/>
<path d="M1257.64,397.44A507.0,507.0 0 0 1 1260.89,410.09L1244.38,414.12A490.0,490.0 0 0 0 1241.23,401.89Z" fill="#ff1414"/>
<path d="M1260.89,410.09A507.0,507.0 0 0 1 1263.82,422.83L1247.21,426.42A490.0,490.0 0 0 0 1244.38,414.12Z" fill="#ff8000"/>
<path d="M1263.82,422.83A507.0,507.0 0 0 1 1266.42,435.63L1249.72,438.80A490.0,490.0 0 0 0 1247.21,426.42Z" fill="#ff1414"/>
<path d="M1266.42,435.63A507.0,507.0 0 0 1 1268.69,448.50L1251.91,451.24A490.0,490.0 0 0 0 1249.72,438.80Z" fill="#ff8000"/>
<path d="M1258.26,536.41L1275.26,536.63M1257.93,549.04L1274.92,549.70M1257.28,561.65L1274.25,562.75M1256.31,574.24L1273.24,575.78M1255.01,586.81L1271.89,588.77M1253.38,599.33L1270.21,601.73M1251.44,611.81L1268.20,614.64M1249.17,624.23L1265.86,627.50M1246.59,636.60L1263.18,640.29" stroke="#2020ff" stroke-width="0.7" fill="none"/>
<path d="M1224.48,709.00L1240.30,715.20M1219.71,720.69L1235.37,727.31M1214.65,732.26L1230.14,739.28M1209.29,743.70L1224.59,751.11" stroke="#906060" stroke-width="0.7" fill="none"/>
<path d="M1077.00,910.63L1087.71,923.83M1067.09,918.46L1077.46,931.93M1056.99,926.03L1067.00,939.77M1046.69,933.34L1056.34,947.33" stroke="#30b060" stroke-width="0.7" fill="none"/>
<path d="M1025.54,947.15L1034.46,961.62M1014.70,953.64L1023.25,968.33M1003.71,959.85L1011.87,974.76M992.55,965.77L1000.33,980.89M981.25,971.41L988.64,986.72M969.81,976.75L976.80,992.24M958.23,981.79L964.82,997.46" stroke="#30e0e0" stroke-width="0.7" fill="none"/>
<path d="M861.73,1011.11L864.97,1027.80M849.30,1013.36L852.11,1030.13M836.82,1015.29L839.19,1032.12M824.29,1016.89L826.23,1033.78M811.73,1018.17L813.23,1035.11M799.13,1019.13L800.20,1036.10M786.52,1019.76L787.15,1036.75" stroke="#109cff" stroke-width="0.7" fill="none"/>
<path d="M736.03,1019.04L734.91,1036.00M723.44,1018.04L721.88,1034.97M710.88,1016.72L708.88,1033.61M698.35,1015.08L695.93,1031.91M412.26,866.75L399.91,878.43M403.70,857.46L391.05,868.82M395.38,847.96L382.45,858.99M387.32,838.24L374.10,848.93M379.50,828.32L366.01,838.67" stroke="#ff9a40" stroke-width="0.7" fill="none"/>
<path d="M673.46,1010.83L670.17,1027.51M661.10,1008.23L657.38,1024.82M648.81,1005.31L644.67,1021.80" stroke="#ff7070" stroke-width="0.7" fill="none"/>
<path d="M565.48,976.15L558.44,991.63M554.05,970.78L546.62,986.07M542.76,965.11L534.94,980.20" stroke="#555555" stroke-width="0.7" fill="none"/>
<path d="M468.36,917.58L457.96,931.02M458.48,909.72L447.73,922.89M448.80,901.61L437.71,914.50M439.33,893.25L427.91,905.85M430.08,884.65L418.34,896.95" stroke="#f0f060" stroke-width="0.7" fill="none"/>
<path d="M364.65,807.89L350.65,817.53M357.63,797.40L343.38,806.67M350.87,786.72L336.39,795.63M344.40,775.88L329.69,784.41M338.21,764.87L323.28,773.02M332.30,753.71L317.17,761.47" stroke="#20d020" stroke-width="0.7" fill="none"/>
<path d="M322.55,326.62L307.08,319.56M327.94,315.20L312.66,307.75M333.62,303.92L318.54,296.08M339.60,292.80L324.72,284.56M345.85,281.83L331.20,273.21M352.39,271.02L337.96,262.03M359.21,260.39L345.02,251.03M366.30,249.94L352.35,240.21M373.65,239.67L359.96,229.59M381.27,229.59L367.84,219.17M389.14,219.72L375.98,208.95M397.26,210.05L384.39,198.95M405.64,200.59L393.05,189.16M414.25,191.36L401.96,179.60M423.10,182.34L411.12,170.28M432.17,173.56L420.51,161.19M441.47,165.02L430.13,152.35M450.99,156.72L439.98,143.76M460.72,148.66L450.05,135.43M470.65,140.86L460.32,127.36M480.78,133.32L470.81,119.56M491.10,126.04L481.49,112.02M501.61,119.03L492.36,104.77M512.29,112.30L503.41,97.80M523.14,105.84L514.64,91.12M534.16,99.66L526.04,84.73M545.33,93.77L537.59,78.63M556.65,88.17L549.31,72.84M568.11,82.86L561.16,67.34M579.70,77.85L573.16,62.16M591.42,73.14L585.28,57.29M603.26,68.73L597.53,52.73M615.20,64.63L609.89,48.48M627.25,60.84L622.35,44.56M639.39,57.36L634.92,40.96M676.29,48.82L673.10,32.12M713.74,43.15L711.85,26.25M751.52,40.39L750.94,23.40M764.15,40.12L764.01,23.12" stroke="#e00a0a" stroke-width="0.7" fill="none"/>
<path d="M827.16,43.65L829.20,26.77M839.67,45.33L842.15,28.51M852.14,47.33L855.05,30.58M864.56,49.65L867.90,32.98" stroke="#9040ff" stroke-width="0.7" fill="none"/>
<path d="M889.19,55.25L893.38,38.77M901.38,58.52L906.00,42.16M913.49,62.11L918.53,45.87" stroke="#e0108a" stroke-width="0.7" fill="none"/>
<path d="M1157.97,233.03L1171.49,222.72M1165.50,243.17L1179.28,233.21M1172.76,253.50L1186.80,243.90" stroke="#e84070" stroke-width="0.7" fill="none"/>
<path d="M1292.26,523.35A524.0,524.0 0 0 1 1291.91,550.35L1274.92,549.70A507.0,507.0 0 0 0 1275.26,523.57Z" fill="#0088ff"/>
<path d="M1291.91,550.35A524.0,524.0 0 0 1 1291.21,563.84L1274.25,562.75A507.0,507.0 0 0 0 1274.92,549.70Z" fill="#008c0c"/>
<path d="M1291.21,563.84A524.0,524.0 0 0 1 1287.04,604.13L1270.21,601.73A507.0,507.0 0 0 0 1274.25,562.75Z" fill="#0088ff"/>
<path d="M1287.04,604.13A524.0,524.0 0 0 1 1279.77,643.99L1263.18,640.29A507.0,507.0 0 0 0 1270.21,601.73Z" fill="#008c0c"/>
<path d="M1279.77,643.99A524.0,524.0 0 0 1 1276.67,657.13L1260.18,653.01A507.0,507.0 0 0 0 1263.18,640.29Z" fill="#ffff00"/>
<path d="M1276.67,657.13A524.0,524.0 0 0 1 1273.23,670.19L1256.85,665.64A507.0,507.0 0 0 0 1260.18,653.01Z" fill="#ffffff"/>
<path d="M1273.23,670.19A524.0,524.0 0 0 1 1269.45,683.16L1253.19,678.19A507.0,507.0 0 0 0 1256.85,665.64Z" fill="#0088ff"/>
<path d="M1269.45,683.16A524.0,524.0 0 0 1 1260.90,708.77L1244.92,702.98A507.0,507.0 0 0 0 1253.19,678.19Z" fill="#008c0c"/>
<path d="M1260.90,708.77A524.0,524.0 0 0 1 1256.13,721.41L1240.30,715.20A507.0,507.0 0 0 0 1244.92,702.98Z" fill="#0088ff"/>
<path d="M1256.13,721.41A524.0,524.0 0 0 1 1245.62,746.29L1230.14,739.28A507.0,507.0 0 0 0 1240.30,715.20Z" fill="#008c0c"/>
<path d="M1245.62,746.29A524.0,524.0 0 0 1 1213.88,805.84L1199.42,796.90A507.0,507.0 0 0 0 1230.14,739.28Z" fill="#0088ff"/>
<path d="M1213.88,805.84A524.0,524.0 0 0 1 1206.62,817.24L1192.40,807.92A507.0,507.0 0 0 0 1199.42,796.90Z" fill="#ffff00"/>
<path d="M1206.62,817.24A524.0,524.0 0 0 1 1199.08,828.44L1185.10,818.76A507.0,507.0 0 0 0 1192.40,807.92Z" fill="#0088ff"/>
<path d="M1199.08,828.44A524.0,524.0 0 0 1 1191.25,839.44L1177.53,829.40A507.0,507.0 0 0 0 1185.10,818.76Z" fill="#ffff00"/>
<path d="M1191.25,839.44A524.0,524.0 0 0 1 1183.13,850.24L1169.68,839.85A507.0,507.0 0 0 0 1177.53,829.40Z" fill="#008c0c"/>
<path d="M1183.13,850.24A524.0,524.0 0 0 1 1147.98,891.23L1135.67,879.52A507.0,507.0 0 0 0 1169.68,839.85Z" fill="#0088ff"/>
<path d="M1147.98,891.23A524.0,524.0 0 0 1 1138.55,900.90L1126.54,888.87A507.0,507.0 0 0 0 1135.67,879.52Z" fill="#008c0c"/>
<path d="M1138.55,900.90A524.0,524.0 0 0 1 1108.80,928.39L1097.75,915.47A507.0,507.0 0 0 0 1126.54,888.87Z" fill="#0088ff"/>
<path d="M1108.80,928.39A524.0,524.0 0 0 1 1087.83,945.41L1077.46,931.93A507.0,507.0 0 0 0 1097.75,915.47Z" fill="#008c0c"/>
<path d="M1087.83,945.41A524.0,524.0 0 0 1 1054.79,968.85L1045.50,954.61A507.0,507.0 0 0 0 1077.46,931.93Z" fill="#0088ff"/>
<path d="M1054.79,968.85A524.0,524.0 0 0 1 1043.39,976.09L1034.46,961.62A507.0,507.0 0 0 0 1045.50,954.61Z" fill="#ffff00"/>
<path d="M1043.39,976.09A524.0,524.0 0 0 1 933.49,1027.38L928.13,1011.25A507.0,507.0 0 0 0 1034.46,961.62Z" fill="#0088ff"/>
<path d="M933.49,1027.38A524.0,524.0 0 0 1 920.62,1031.47L915.68,1015.21A507.0,507.0 0 0 0 928.13,1011.25Z" fill="#008c0c"/>
<path d="M920.62,1031.47A524.0,524.0 0 0 1 907.64,1035.23L903.12,1018.84A507.0,507.0 0 0 0 915.68,1015.21Z" fill="#ffff00"/>
<path d="M907.64,1035.23A524.0,524.0 0 0 1 881.43,1041.74L877.76,1025.14A507.0,507.0 0 0 0 903.12,1018.84Z" fill="#008c0c"/>
<path d="M881.43,1041.74A524.0,524.0 0 0 1 760.78,1054.05L761.02,1037.05A507.0,507.0 0 0 0 877.76,1025.14Z" fill="#0088ff"/>
<path d="M760.78,1054.05A524.0,524.0 0 0 1 747.27,1053.68L747.96,1036.69A507.0,507.0 0 0 0 761.02,1037.05Z" fill="#008c0c"/>
<path d="M747.27,1053.68A524.0,524.0 0 0 1 680.16,1046.63L683.02,1029.88A507.0,507.0 0 0 0 747.96,1036.69Z" fill="#ffff00"/>
<path d="M680.16,1046.63A524.0,524.0 0 0 1 653.66,1041.41L657.38,1024.82A507.0,507.0 0 0 0 683.02,1029.88Z" fill="#0088ff"/>
<path d="M653.66,1041.41A524.0,524.0 0 0 1 640.52,1038.28L644.67,1021.80A507.0,507.0 0 0 0 657.38,1024.82Z" fill="#ffff00"/>
<path d="M640.52,1038.28A524.0,524.0 0 0 1 614.51,1031.02L619.50,1014.77A507.0,507.0 0 0 0 644.67,1021.80Z" fill="#0088ff"/>
<path d="M614.51,1031.02A524.0,524.0 0 0 1 601.65,1026.89L607.05,1010.78A507.0,507.0 0 0 0 619.50,1014.77Z" fill="#008c0c"/>
<path d="M601.65,1026.89A524.0,524.0 0 0 1 576.27,1017.65L582.50,1001.83A507.0,507.0 0 0 0 607.05,1010.78Z" fill="#0088ff"/>
<path d="M576.27,1017.65A524.0,524.0 0 0 1 563.77,1012.53L570.41,996.88A507.0,507.0 0 0 0 582.50,1001.83Z" fill="#ffffff"/>
<path d="M563.77,1012.53A524.0,524.0 0 0 1 551.40,1007.10L558.44,991.63A507.0,507.0 0 0 0 570.41,996.88Z" fill="#008c0c"/>
<path d="M551.40,1007.10A524.0,524.0 0 0 1 539.18,1001.36L546.62,986.07A507.0,507.0 0 0 0 558.44,991.63Z" fill="#0088ff"/>
<path d="M539.18,1001.36A524.0,524.0 0 0 1 515.21,988.92L523.42,974.04A507.0,507.0 0 0 0 546.62,986.07Z" fill="#ffff00"/>
<path d="M515.21,988.92A524.0,524.0 0 0 1 503.46,982.25L512.06,967.58A507.0,507.0 0 0 0 523.42,974.04Z" fill="#008c0c"/>
<path d="M503.46,982.25A524.0,524.0 0 0 1 480.52,968.00L489.85,953.79A507.0,507.0 0 0 0 512.06,967.58Z" fill="#0088ff"/>
<path d="M480.52,968.00A524.0,524.0 0 0 1 469.33,960.44L479.03,946.48A507.0,507.0 0 0 0 489.85,953.79Z" fill="#008c0c"/>
<path d="M469.33,960.44A524.0,524.0 0 0 1 458.34,952.59L468.39,938.88A507.0,507.0 0 0 0 479.03,946.48Z" fill="#ffff00"/>
<path d="M458.34,952.59A524.0,524.0 0 0 1 447.55,944.46L457.96,931.02A507.0,507.0 0 0 0 468.39,938.88Z" fill="#0088ff"/>
<path d="M447.55,944.46A524.0,524.0 0 0 1 436.98,936.06L447.73,922.89A507.0,507.0 0 0 0 457.96,931.02Z" fill="#ffff00"/>
<path d="M436.98,936.06A524.0,524.0 0 0 1 416.50,918.45L427.91,905.85A507.0,507.0 0 0 0 447.73,922.89Z" fill="#008c0c"/>
<path d="M416.50,918.45A524.0,524.0 0 0 1 406.61,909.25L418.34,896.95A507.0,507.0 0 0 0 427.91,905.85Z" fill="#0088ff"/>
<path d="M406.61,909.25A524.0,524.0 0 0 1 396.96,899.80L409.01,887.81A507.0,507.0 0 0 0 418.34,896.95Z" fill="#ffff00"/>
<path d="M396.96,899.80A524.0,524.0 0 0 1 387.55,890.11L399.91,878.43A507.0,507.0 0 0 0 409.01,887.81Z" fill="#008c0c"/>
<path d="M387.55,890.11A524.0,524.0 0 0 1 321.91,804.53L336.39,795.63A507.0,507.0 0 0 0 399.91,878.43Z" fill="#0088ff"/>
<path d="M321.91,804.53A524.0,524.0 0 0 1 296.04,757.13L311.36,749.77A507.0,507.0 0 0 0 336.39,795.63Z" fill="#008c0c"/>
<path d="M296.04,757.13A524.0,524.0 0 0 1 290.34,744.89L305.85,737.92A507.0,507.0 0 0 0 311.36,749.77Z" fill="#0088ff"/>
<path d="M290.34,744.89A524.0,524.0 0 0 1 284.97,732.50L300.65,725.93A507.0,507.0 0 0 0 305.85,737.92Z" fill="#008c0c"/>
<path d="M284.97,732.50A524.0,524.0 0 0 1 279.91,719.97L295.76,713.81A507.0,507.0 0 0 0 300.65,725.93Z" fill="#ffffff"/>
<path d="M279.91,719.97A524.0,524.0 0 0 1 262.96,668.70L279.36,664.20A507.0,507.0 0 0 0 295.76,713.81Z" fill="#0088ff"/>
<path d="M262.96,668.70A524.0,524.0 0 0 1 259.56,655.63L276.06,651.56A507.0,507.0 0 0 0 279.36,664.20Z" fill="#ffff00"/>
<path d="M259.56,655.63A524.0,524.0 0 0 1 256.49,642.48L273.10,638.83A507.0,507.0 0 0 0 276.06,651.56Z" fill="#ffffff"/>
<path d="M256.49,642.48A524.0,524.0 0 0 1 253.77,629.25L270.46,626.03A507.0,507.0 0 0 0 273.10,638.83Z" fill="#008c0c"/>
<path d="M253.77,629.25A524.0,524.0 0 0 1 251.38,615.96L268.15,613.17A507.0,507.0 0 0 0 270.46,626.03Z" fill="#0088ff"/>
<path d="M251.38,615.96A524.0,524.0 0 0 1 247.64,589.21L264.54,587.29A507.0,507.0 0 0 0 268.15,613.17Z" fill="#008c0c"/>
<path d="M247.64,589.21A524.0,524.0 0 0 1 246.29,575.77L263.23,574.29A507.0,507.0 0 0 0 264.54,587.29Z" fill="#ffff00"/>
<path d="M246.29,575.77A524.0,524.0 0 0 1 245.29,562.30L262.26,561.26A507.0,507.0 0 0 0 263.23,574.29Z" fill="#008c0c"/>
<path d="M245.29,562.30A524.0,524.0 0 0 1 244.63,548.81L261.62,548.20A507.0,507.0 0 0 0 262.26,561.26Z" fill="#ffff00"/>
<path d="M244.63,548.81A524.0,524.0 0 0 1 244.33,535.31L261.33,535.14A507.0,507.0 0 0 0 261.62,548.20Z" fill="#008c0c"/>
<path d="M244.33,535.31A524.0,524.0 0 0 1 244.37,521.80L261.36,522.07A507.0,507.0 0 0 0 261.33,535.14Z" fill="#ffffff"/>
<path d="M244.37,521.80A524.0,524.0 0 0 1 244.75,508.30L261.74,509.01A507.0,507.0 0 0 0 261.36,522.07Z" fill="#008c0c"/>
<path d="M244.75,508.30A524.0,524.0 0 0 1 245.49,494.82L262.45,495.96A507.0,507.0 0 0 0 261.74,509.01Z" fill="#ffff00"/>
<path d="M245.49,494.82A524.0,524.0 0 0 1 248.00,467.93L264.88,469.94A507.0,507.0 0 0 0 262.45,495.96Z" fill="#008c0c"/>
<path d="M248.00,467.93A524.0,524.0 0 0 1 254.36,427.92L271.03,431.23A507.0,507.0 0 0 0 264.88,469.94Z" fill="#0088ff"/>
<path d="M254.36,427.92A524.0,524.0 0 0 1 263.79,388.52L280.16,393.12A507.0,507.0 0 0 0 271.03,431.23Z" fill="#008c0c"/>
<path d="M263.79,388.52A524.0,524.0 0 0 1 276.23,349.98L292.20,355.82A507.0,507.0 0 0 0 280.16,393.12Z" fill="#0088ff"/>
<path d="M276.23,349.98A524.0,524.0 0 0 1 297.38,300.29L312.66,307.75A507.0,507.0 0 0 0 292.20,355.82Z" fill="#008c0c"/>
<path d="M297.38,300.29A524.0,524.0 0 0 1 323.53,253.04L337.96,262.03A507.0,507.0 0 0 0 312.66,307.75Z" fill="#0088ff"/>
<path d="M323.53,253.04A524.0,524.0 0 0 1 338.40,230.49L352.35,240.21A507.0,507.0 0 0 0 337.96,262.03Z" fill="#008c0c"/>
<path d="M338.40,230.49A524.0,524.0 0 0 1 408.85,148.82L420.51,161.19A507.0,507.0 0 0 0 352.35,240.21Z" fill="#0088ff"/>
<path d="M408.85,148.82A524.0,524.0 0 0 1 418.80,139.69L430.13,152.35A507.0,507.0 0 0 0 420.51,161.19Z" fill="#ffff00"/>
<path d="M418.80,139.69A524.0,524.0 0 0 1 517.91,69.79L526.04,84.73A507.0,507.0 0 0 0 430.13,152.35Z" fill="#0088ff"/>
<path d="M517.91,69.79A524.0,524.0 0 0 1 554.22,51.83L561.16,67.34A507.0,507.0 0 0 0 526.04,84.73Z" fill="#008c0c"/>
<path d="M554.22,51.83A524.0,524.0 0 0 1 790.87,6.59L790.14,23.57A507.0,507.0 0 0 0 561.16,67.34Z" fill="#0088ff"/>
<path d="M790.87,6.59A524.0,524.0 0 0 1 804.35,7.34L803.18,24.30A507.0,507.0 0 0 0 790.14,23.57Z" fill="#ffff00"/>
<path d="M804.35,7.34A524.0,524.0 0 0 1 817.81,8.44L816.21,25.37A507.0,507.0 0 0 0 803.18,24.30Z" fill="#0088ff"/>
<path d="M817.81,8.44A524.0,524.0 0 0 1 871.24,16.31L867.90,32.98A507.0,507.0 0 0 0 816.21,25.37Z" fill="#008c0c"/>
<path d="M871.24,16.31A524.0,524.0 0 0 1 884.44,19.13L880.68,35.71A507.0,507.0 0 0 0 867.90,32.98Z" fill="#0088ff"/>
<path d="M884.44,19.13A524.0,524.0 0 0 1 936.41,33.80L930.96,49.90A507.0,507.0 0 0 0 880.68,35.71Z" fill="#008c0c"/>
<path d="M936.41,33.80A524.0,524.0 0 0 1 949.15,38.30L943.28,54.25A507.0,507.0 0 0 0 930.96,49.90Z" fill="#ffffff"/>
<path d="M949.15,38.30A524.0,524.0 0 0 1 961.76,43.12L955.49,58.92A507.0,507.0 0 0 0 943.28,54.25Z" fill="#ffff00"/>
<path d="M961.76,43.12A524.0,524.0 0 0 1 974.25,48.27L967.57,63.90A507.0,507.0 0 0 0 955.49,58.92Z" fill="#0088ff"/>
<path d="M974.25,48.27A524.0,524.0 0 0 1 986.60,53.74L979.52,69.19A507.0,507.0 0 0 0 967.57,63.90Z" fill="#008c0c"/>
<path d="M986.60,53.74A524.0,524.0 0 0 1 998.80,59.52L991.33,74.79A507.0,507.0 0 0 0 979.52,69.19Z" fill="#0088ff"/>
<path d="M998.80,59.52A524.0,524.0 0 0 1 1022.75,72.02L1014.49,86.89A507.0,507.0 0 0 0 991.33,74.79Z" fill="#008c0c"/>
<path d="M1022.75,72.02A524.0,524.0 0 0 1 1057.37,93.05L1047.99,107.23A507.0,507.0 0 0 0 1014.49,86.89Z" fill="#0088ff"/>
<path d="M1057.37,93.05A524.0,524.0 0 0 1 1068.54,100.64L1058.80,114.58A507.0,507.0 0 0 0 1047.99,107.23Z" fill="#008c0c"/>
<path d="M1068.54,100.64A524.0,524.0 0 0 1 1100.82,125.12L1090.03,138.26A507.0,507.0 0 0 0 1058.80,114.58Z" fill="#0088ff"/>
<path d="M1100.82,125.12A524.0,524.0 0 0 1 1150.11,171.21L1137.72,182.86A507.0,507.0 0 0 0 1090.03,138.26Z" fill="#008c0c"/>
<path d="M1150.11,171.21A524.0,524.0 0 0 1 1159.23,181.17L1146.54,192.49A507.0,507.0 0 0 0 1137.72,182.86Z" fill="#0088ff"/>
<path d="M1159.23,181.17A524.0,524.0 0 0 1 1208.31,245.55L1194.03,254.78A507.0,507.0 0 0 0 1146.54,192.49Z" fill="#008c0c"/>
<path d="M1208.31,245.55A524.0,524.0 0 0 1 1215.50,256.99L1200.99,265.85A507.0,507.0 0 0 0 1194.03,254.78Z" fill="#0088ff"/>
<path d="M1215.50,256.99A524.0,524.0 0 0 1 1222.39,268.60L1207.65,277.09A507.0,507.0 0 0 0 1200.99,265.85Z" fill="#008c0c"/>
<path d="M1222.39,268.60A524.0,524.0 0 0 1 1228.97,280.39L1214.03,288.49A507.0,507.0 0 0 0 1207.65,277.09Z" fill="#ffff00"/>
<path d="M1228.97,280.39A524.0,524.0 0 0 1 1235.26,292.35L1220.11,300.06A507.0,507.0 0 0 0 1214.03,288.49Z" fill="#0088ff"/>
<path d="M1235.26,292.35A524.0,524.0 0 0 1 1246.89,316.72L1231.36,323.65A507.0,507.0 0 0 0 1220.11,300.06Z" fill="#ffff00"/>
<path d="M1246.89,316.72A524.0,524.0 0 0 1 1285.47,445.77L1268.69,448.50A507.0,507.0 0 0 0 1231.36,323.65Z" fill="#0088ff"/>
<path d="M1268.20,614.64L1284.96,617.48M1265.86,627.50L1282.54,630.77M1249.21,690.64L1265.34,696.02M1235.37,727.31L1251.04,733.92M1087.71,923.83L1098.42,937.03M890.48,1022.16L894.58,1038.66M437.71,914.50L426.63,927.39M329.69,784.41L314.99,792.94M323.28,773.02L308.36,781.16M317.17,761.47L302.04,769.23M266.18,600.25L249.34,602.61M263.50,482.94L246.57,481.36M273.75,418.45L257.16,414.71M276.79,405.74L260.31,401.57M296.85,343.61L281.04,337.35M301.81,331.52L286.17,324.86M307.08,319.56L291.62,312.50M345.02,251.03L330.82,241.67M537.59,78.63L529.86,63.49M549.31,72.84L541.96,57.50M829.20,26.77L831.24,9.89M842.15,28.51L844.63,11.69M855.05,30.58L857.96,13.83M893.38,38.77L897.57,22.30M906.00,42.16L910.62,25.80M918.53,45.87L923.57,29.63M1002.99,80.69L1010.86,65.62M1100.02,146.68L1111.14,133.82M1109.79,155.36L1121.24,142.79M1119.34,164.28L1131.11,152.02M1128.65,173.45L1140.73,161.49M1155.12,202.35L1168.09,191.36M1163.44,212.43L1176.69,201.78M1171.49,222.72L1185.01,212.41M1179.28,233.21L1193.06,223.26M1186.80,243.90L1200.83,234.31" stroke="#007008" stroke-width="0.5" fill="none"/>
<path d="M1258.26,523.79A490.0,490.0 0 1 1 1251.91,451.24" fill="none" stroke="#6a6a6a" stroke-width="1"/>
<path d="M1275.26,523.57A507.0,507.0 0 1 1 1268.69,448.50" fill="none" stroke="#000" stroke-width="1.1"/>
<path d="M1292.26,523.35A524.0,524.0 0 1 1 1285.47,445.77" fill="none" stroke="#222" stroke-width="0.9"/>
<path d="M1258.26,523.79L1292.26,523.35M1251.91,451.24L1285.47,445.77" fill="none" stroke="#222" stroke-width="0.8"/>
<g font-family="Liberation Serif, serif"><g transform="translate(768.3,530.1) rotate(0.000)"><rect x="436.40" y="-3.40" width="18.44" height="6.80" fill="#b0e4cb"/><text x="437.10" y="1.77" font-size="5.2" text-anchor="start" fill="#111">TB0300</text></g><g transform="translate(768.3,530.1) rotate(1.477)"><rect x="436.40" y="-3.40" width="18.44" height="6.80" fill="#b0e4cb"/><text x="437.10" y="1.77" font-size="5.2" text-anchor="start" fill="#111">TB0451</text></g><g transform="translate(768.3,530.1) rotate(2.954)"><rect x="436.40" y="-3.40" width="18.44" height="6.80" fill="#b0e4cb"/><text x="437.10" y="1.77" font-size="5.2" text-anchor="start" fill="#111">TB0452</text></g><g transform="translate(768.3,530.1) rotate(4.430)"><rect x="436.40" y="-3.40" width="24.22" height="6.80" fill="#b0e4cb"/><text x="437.10" y="1.77" font-size="5.2" text-anchor="start" fill="#111">LMNC269</text></g><g transform="translate(768.3,530.1) rotate(5.907)"><rect x="436.40" y="-3.40" width="29.13" height="6.80" fill="#b0e4cb"/><text x="437.10" y="1.77" font-size="5.2" text-anchor="start" fill="#111">LM09-00261</text></g><g transform="translate(768.3,530.1) rotate(7.384)"><rect x="436.40" y="-3.40" width="18.44" height="6.80" fill="#b0e4cb"/><text x="437.10" y="1.77" font-size="5.2" text-anchor="start" fill="#111">TB0158</text></g><g transform="translate(768.3,530.1) rotate(8.861)"><rect x="436.40" y="-3.40" width="18.44" height="6.80" fill="#b0e4cb"/><text x="437.10" y="1.77" font-size="5.2" text-anchor="start" fill="#111">TB0390</text></g><g transform="translate(768.3,530.1) rotate(10.338)"><rect x="436.40" y="-3.40" width="18.44" height="6.80" fill="#b0e4cb"/><text x="437.10" y="1.77" font-size="5.2" text-anchor="start" fill="#111">TB0561</text></g><g transform="translate(768.3,530.1) rotate(11.814)"><rect x="436.40" y="-3.40" width="18.44" height="6.80" fill="#b0e4cb"/><text x="437.10" y="1.77" font-size="5.2" text-anchor="start" fill="#111">TB0068</text></g><g transform="translate(768.3,530.1) rotate(13.291)"><rect x="436.40" y="-3.40" width="18.44" height="6.80" fill="#b0e4cb"/><text x="437.10" y="1.77" font-size="5.2" text-anchor="start" fill="#111">TB0394</text></g><g transform="translate(768.3,530.1) rotate(14.768)"><rect x="436.40" y="-4.68" width="24.80" height="9.36" fill="#b0e4cb"/><text x="437.10" y="2.65" font-size="7.8" text-anchor="start" font-weight="bold" fill="#101a20">104035</text></g><g transform="translate(768.3,530.1) rotate(16.245)"><rect x="436.40" y="-3.40" width="18.44" height="6.80" fill="#b0e4cb"/><text x="437.10" y="1.77" font-size="5.2" text-anchor="start" fill="#111">TB0382</text></g><g transform="translate(768.3,530.1) rotate(17.722)"><rect x="436.40" y="-3.40" width="18.44" height="6.80" fill="#b0e4cb"/><text x="437.10" y="1.77" font-size="5.2" text-anchor="start" fill="#111">TB0383</text></g><g transform="translate(768.3,530.1) rotate(19.198)"><rect x="436.40" y="-3.40" width="18.44" height="6.80" fill="#b0e4cb"/><text x="437.10" y="1.77" font-size="5.2" text-anchor="start" fill="#111">TB0089</text></g><g transform="translate(768.3,530.1) rotate(20.675)"><rect x="436.40" y="-3.40" width="24.22" height="6.80" fill="#b0e4cb"/><text x="437.10" y="1.77" font-size="5.2" text-anchor="start" fill="#111">LMNC254</text></g><g transform="translate(768.3,530.1) rotate(22.152)"><rect x="436.40" y="-3.40" width="18.44" height="6.80" fill="#b0e4cb"/><text x="437.10" y="1.77" font-size="5.2" text-anchor="start" fill="#111">TB0449</text></g><g transform="translate(768.3,530.1) rotate(23.629)"><rect x="436.40" y="-3.40" width="18.44" height="6.80" fill="#b0e4cb"/><text x="437.10" y="1.77" font-size="5.2" text-anchor="start" fill="#111">TB0531</text></g><g transform="translate(768.3,530.1) rotate(25.105)"><rect x="436.40" y="-3.40" width="24.22" height="6.80" fill="#b0e4cb"/><text x="437.10" y="1.77" font-size="5.2" text-anchor="start" fill="#111">LMNC265</text></g><g transform="translate(768.3,530.1) rotate(26.582)"><rect x="436.40" y="-3.40" width="24.22" height="6.80" fill="#b0e4cb"/><text x="437.10" y="1.77" font-size="5.2" text-anchor="start" fill="#111">LMNC270</text></g><g transform="translate(768.3,530.1) rotate(28.059)"><rect x="436.40" y="-3.40" width="24.22" height="6.80" fill="#b0e4cb"/><text x="437.10" y="1.77" font-size="5.2" text-anchor="start" fill="#111">LMNC279</text></g><g transform="translate(768.3,530.1) rotate(29.536)"><rect x="436.40" y="-3.40" width="18.44" height="6.80" fill="#b0e4cb"/><text x="437.10" y="1.77" font-size="5.2" text-anchor="start" fill="#111">TB0392</text></g><g transform="translate(768.3,530.1) rotate(31.013)"><rect x="436.40" y="-3.40" width="24.22" height="6.80" fill="#b0e4cb"/><text x="437.10" y="1.77" font-size="5.2" text-anchor="start" fill="#111">LMNC338</text></g><g transform="translate(768.3,530.1) rotate(32.489)"><rect x="436.40" y="-3.40" width="18.44" height="6.80" fill="#b0e4cb"/><text x="437.10" y="1.77" font-size="5.2" text-anchor="start" fill="#111">TB0522</text></g><g transform="translate(768.3,530.1) rotate(33.966)"><rect x="436.40" y="-3.40" width="24.22" height="6.80" fill="#b0e4cb"/><text x="437.10" y="1.77" font-size="5.2" text-anchor="start" fill="#111">LMNC317</text></g><g transform="translate(768.3,530.1) rotate(35.443)"><rect x="436.40" y="-3.40" width="18.44" height="6.80" fill="#b0e4cb"/><text x="437.10" y="1.77" font-size="5.2" text-anchor="start" fill="#111">TB0632</text></g><g transform="translate(768.3,530.1) rotate(36.920)"><rect x="436.40" y="-3.40" width="29.13" height="6.80" fill="#b0e4cb"/><text x="437.10" y="1.77" font-size="5.2" text-anchor="start" fill="#111">LM09-01099</text></g><g transform="translate(768.3,530.1) rotate(38.397)"><rect x="436.40" y="-3.40" width="24.22" height="6.80" fill="#b0e4cb"/><text x="437.10" y="1.77" font-size="5.2" text-anchor="start" fill="#111">LMNC294</text></g><g transform="translate(768.3,530.1) rotate(39.873)"><rect x="436.40" y="-3.40" width="24.22" height="6.80" fill="#b0e4cb"/><text x="437.10" y="1.77" font-size="5.2" text-anchor="start" fill="#111">LMNC264</text></g><g transform="translate(768.3,530.1) rotate(41.350)"><rect x="436.40" y="-3.40" width="24.22" height="6.80" fill="#b0e4cb"/><text x="437.10" y="1.77" font-size="5.2" text-anchor="start" fill="#111">LMNC241</text></g><g transform="translate(768.3,530.1) rotate(42.827)"><rect x="436.40" y="-3.40" width="24.22" height="6.80" fill="#b0e4cb"/><text x="437.10" y="1.77" font-size="5.2" text-anchor="start" fill="#111">LMNC236</text></g><g transform="translate(768.3,530.1) rotate(44.304)"><rect x="436.40" y="-3.40" width="18.44" height="6.80" fill="#b0e4cb"/><text x="437.10" y="1.77" font-size="5.2" text-anchor="start" fill="#111">TB0546</text></g><g transform="translate(768.3,530.1) rotate(45.781)"><rect x="436.40" y="-3.40" width="29.13" height="6.80" fill="#b0e4cb"/><text x="437.10" y="1.77" font-size="5.2" text-anchor="start" fill="#111">LM09-00086</text></g><g transform="translate(768.3,530.1) rotate(47.257)"><rect x="436.40" y="-3.40" width="24.22" height="6.80" fill="#b0e4cb"/><text x="437.10" y="1.77" font-size="5.2" text-anchor="start" fill="#111">LMNC319</text></g><g transform="translate(768.3,530.1) rotate(48.734)"><rect x="436.40" y="-3.40" width="24.22" height="6.80" fill="#b0e4cb"/><text x="437.10" y="1.77" font-size="5.2" text-anchor="start" fill="#111">LMNC351</text></g><g transform="translate(768.3,530.1) rotate(50.211)"><rect x="436.40" y="-3.40" width="18.44" height="6.80" fill="#b0e4cb"/><text x="437.10" y="1.77" font-size="5.2" text-anchor="start" fill="#111">TB0378</text></g><g transform="translate(768.3,530.1) rotate(51.688)"><rect x="436.40" y="-3.40" width="29.13" height="6.80" fill="#b0e4cb"/><text x="437.10" y="1.77" font-size="5.2" text-anchor="start" fill="#111">LM09-00465</text></g><g transform="translate(768.3,530.1) rotate(53.165)"><rect x="436.40" y="-3.40" width="17.00" height="6.80" fill="#b0e4cb"/><text x="437.10" y="1.77" font-size="5.2" text-anchor="start" fill="#111">IB5373</text></g><g transform="translate(768.3,530.1) rotate(54.641)"><rect x="436.40" y="-3.40" width="24.22" height="6.80" fill="#b0e4cb"/><text x="437.10" y="1.77" font-size="5.2" text-anchor="start" fill="#111">LMNC305</text></g><g transform="translate(768.3,530.1) rotate(56.118)"><rect x="436.40" y="-3.40" width="24.22" height="6.80" fill="#b0e4cb"/><text x="437.10" y="1.77" font-size="5.2" text-anchor="start" fill="#111">LMNC310</text></g><g transform="translate(768.3,530.1) rotate(57.595)"><rect x="436.40" y="-3.40" width="18.44" height="6.80" fill="#b0e4cb"/><text x="437.10" y="1.77" font-size="5.2" text-anchor="start" fill="#111">TB0369</text></g><g transform="translate(768.3,530.1) rotate(59.072)"><rect x="436.40" y="-3.40" width="24.22" height="6.80" fill="#b0e4cb"/><text x="437.10" y="1.77" font-size="5.2" text-anchor="start" fill="#111">LMNC277</text></g><g transform="translate(768.3,530.1) rotate(60.549)"><rect x="436.40" y="-3.40" width="24.22" height="6.80" fill="#b0e4cb"/><text x="437.10" y="1.77" font-size="5.2" text-anchor="start" fill="#111">LMNC369</text></g><g transform="translate(768.3,530.1) rotate(62.025)"><rect x="436.40" y="-3.40" width="24.22" height="6.80" fill="#b0e4cb"/><text x="437.10" y="1.77" font-size="5.2" text-anchor="start" fill="#111">LMNC270</text></g><g transform="translate(768.3,530.1) rotate(63.502)"><rect x="436.40" y="-3.40" width="24.22" height="6.80" fill="#b0e4cb"/><text x="437.10" y="1.77" font-size="5.2" text-anchor="start" fill="#111">LMNC269</text></g><g transform="translate(768.3,530.1) rotate(64.979)"><rect x="436.40" y="-3.40" width="17.00" height="6.80" fill="#b0e4cb"/><text x="437.10" y="1.77" font-size="5.2" text-anchor="start" fill="#111">IB5372</text></g><g transform="translate(768.3,530.1) rotate(66.456)"><rect x="436.40" y="-3.40" width="24.22" height="6.80" fill="#b0e4cb"/><text x="437.10" y="1.77" font-size="5.2" text-anchor="start" fill="#111">LMNC355</text></g><g transform="translate(768.3,530.1) rotate(67.932)"><rect x="436.40" y="-3.40" width="17.00" height="6.80" fill="#b0e4cb"/><text x="437.10" y="1.77" font-size="5.2" text-anchor="start" fill="#111">IB5394</text></g><g transform="translate(768.3,530.1) rotate(69.409)"><rect x="436.40" y="-3.40" width="24.22" height="6.80" fill="#b0e4cb"/><text x="437.10" y="1.77" font-size="5.2" text-anchor="start" fill="#111">LMNC281</text></g><g transform="translate(768.3,530.1) rotate(70.886)"><rect x="436.40" y="-3.40" width="24.22" height="6.80" fill="#b0e4cb"/><text x="437.10" y="1.77" font-size="5.2" text-anchor="start" fill="#111">LMNC233</text></g><g transform="translate(768.3,530.1) rotate(72.363)"><rect x="436.40" y="-3.40" width="18.44" height="6.80" fill="#b0e4cb"/><text x="437.10" y="1.77" font-size="5.2" text-anchor="start" fill="#111">TB0337</text></g><g transform="translate(768.3,530.1) rotate(73.840)"><rect x="436.40" y="-3.40" width="29.13" height="6.80" fill="#b0e4cb"/><text x="437.10" y="1.77" font-size="5.2" text-anchor="start" fill="#111">LM09-00695</text></g><g transform="translate(768.3,530.1) rotate(75.316)"><rect x="436.40" y="-3.40" width="18.44" height="6.80" fill="#b0e4cb"/><text x="437.10" y="1.77" font-size="5.2" text-anchor="start" fill="#111">TB0448</text></g><g transform="translate(768.3,530.1) rotate(76.793)"><rect x="436.40" y="-3.40" width="18.44" height="6.80" fill="#b0e4cb"/><text x="437.10" y="1.77" font-size="5.2" text-anchor="start" fill="#111">TB0564</text></g><g transform="translate(768.3,530.1) rotate(78.270)"><rect x="436.40" y="-3.40" width="24.22" height="6.80" fill="#b0e4cb"/><text x="437.10" y="1.77" font-size="5.2" text-anchor="start" fill="#111">LMNC287</text></g><g transform="translate(768.3,530.1) rotate(79.747)"><rect x="436.40" y="-3.40" width="24.22" height="6.80" fill="#b0e4cb"/><text x="437.10" y="1.77" font-size="5.2" text-anchor="start" fill="#111">LMNC332</text></g><g transform="translate(768.3,530.1) rotate(81.224)"><rect x="436.40" y="-3.40" width="24.22" height="6.80" fill="#b0e4cb"/><text x="437.10" y="1.77" font-size="5.2" text-anchor="start" fill="#111">LMNC288</text></g><g transform="translate(768.3,530.1) rotate(82.700)"><rect x="436.40" y="-3.40" width="24.22" height="6.80" fill="#b0e4cb"/><text x="437.10" y="1.77" font-size="5.2" text-anchor="start" fill="#111">LMNC339</text></g><g transform="translate(768.3,530.1) rotate(84.177)"><rect x="436.40" y="-3.40" width="18.44" height="6.80" fill="#b0e4cb"/><text x="437.10" y="1.77" font-size="5.2" text-anchor="start" fill="#111">TB0491</text></g><g transform="translate(768.3,530.1) rotate(85.654)"><rect x="436.40" y="-3.40" width="18.44" height="6.80" fill="#b0e4cb"/><text x="437.10" y="1.77" font-size="5.2" text-anchor="start" fill="#111">TB0456</text></g><g transform="translate(768.3,530.1) rotate(87.131)"><rect x="436.40" y="-3.40" width="18.44" height="6.80" fill="#b0e4cb"/><text x="437.10" y="1.77" font-size="5.2" text-anchor="start" fill="#111">TB0371</text></g><g transform="translate(768.3,530.1) rotate(88.608)"><rect x="436.40" y="-3.40" width="18.44" height="6.80" fill="#b0e4cb"/><text x="437.10" y="1.77" font-size="5.2" text-anchor="start" fill="#111">TB0334</text></g><g transform="translate(768.3,530.1) rotate(270.084)"><rect x="-454.84" y="-3.40" width="18.44" height="6.80" fill="#b0e4cb"/><text x="-437.10" y="1.77" font-size="5.2" text-anchor="end" fill="#111">TB0478</text></g><g transform="translate(768.3,530.1) rotate(271.561)"><rect x="-465.53" y="-3.40" width="29.13" height="6.80" fill="#b0e4cb"/><text x="-437.10" y="1.77" font-size="5.2" text-anchor="end" fill="#111">LM06-01244</text></g><g transform="translate(768.3,530.1) rotate(273.038)"><rect x="-454.84" y="-3.40" width="18.44" height="6.80" fill="#b0e4cb"/><text x="-437.10" y="1.77" font-size="5.2" text-anchor="end" fill="#111">TB0574</text></g><g transform="translate(768.3,530.1) rotate(274.515)"><rect x="-454.84" y="-3.40" width="18.44" height="6.80" fill="#b0e4cb"/><text x="-437.10" y="1.77" font-size="5.2" text-anchor="end" fill="#111">TB0531</text></g><g transform="translate(768.3,530.1) rotate(275.992)"><rect x="-454.84" y="-3.40" width="18.44" height="6.80" fill="#b0e4cb"/><text x="-437.10" y="1.77" font-size="5.2" text-anchor="end" fill="#111">TB0527</text></g><g transform="translate(768.3,530.1) rotate(277.468)"><rect x="-454.84" y="-3.40" width="18.44" height="6.80" fill="#b0e4cb"/><text x="-437.10" y="1.77" font-size="5.2" text-anchor="end" fill="#111">TB0458</text></g><g transform="translate(768.3,530.1) rotate(278.945)"><rect x="-454.84" y="-3.40" width="18.44" height="6.80" fill="#b0e4cb"/><text x="-437.10" y="1.77" font-size="5.2" text-anchor="end" fill="#111">TB0467</text></g><g transform="translate(768.3,530.1) rotate(280.422)"><rect x="-453.12" y="-3.40" width="16.72" height="6.80" fill="#b0e4cb"/><text x="-437.10" y="1.77" font-size="5.2" text-anchor="end" fill="#111">JF4962</text></g><g transform="translate(768.3,530.1) rotate(281.899)"><rect x="-460.62" y="-3.40" width="24.22" height="6.80" fill="#b0e4cb"/><text x="-437.10" y="1.77" font-size="5.2" text-anchor="end" fill="#111">LMNC341</text></g><g transform="translate(768.3,530.1) rotate(283.376)"><rect x="-453.12" y="-3.40" width="16.72" height="6.80" fill="#b0e4cb"/><text x="-437.10" y="1.77" font-size="5.2" text-anchor="end" fill="#111">JF5336</text></g><g transform="translate(768.3,530.1) rotate(284.852)"><rect x="-460.62" y="-3.40" width="24.22" height="6.80" fill="#b0e4cb"/><text x="-437.10" y="1.77" font-size="5.2" text-anchor="end" fill="#111">LMNC314</text></g><g transform="translate(768.3,530.1) rotate(286.329)"><rect x="-454.84" y="-3.40" width="18.44" height="6.80" fill="#b0e4cb"/><text x="-437.10" y="1.77" font-size="5.2" text-anchor="end" fill="#111">TB0263</text></g><g transform="translate(768.3,530.1) rotate(287.806)"><rect x="-454.84" y="-3.40" width="18.44" height="6.80" fill="#b0e4cb"/><text x="-437.10" y="1.77" font-size="5.2" text-anchor="end" fill="#111">TB0261</text></g><g transform="translate(768.3,530.1) rotate(289.283)"><rect x="-460.62" y="-3.40" width="24.22" height="6.80" fill="#b0e4cb"/><text x="-437.10" y="1.77" font-size="5.2" text-anchor="end" fill="#111">LMNC325</text></g><g transform="translate(768.3,530.1) rotate(290.759)"><rect x="-454.84" y="-3.40" width="18.44" height="6.80" fill="#b0e4cb"/><text x="-437.10" y="1.77" font-size="5.2" text-anchor="end" fill="#111">TB0485</text></g><g transform="translate(768.3,530.1) rotate(292.236)"><rect x="-460.76" y="-4.68" width="24.36" height="9.36" fill="#b0e4cb"/><text x="-437.10" y="2.65" font-size="7.8" text-anchor="end" font-weight="bold" fill="#101a20">EGD-e</text></g><g transform="translate(768.3,530.1) rotate(293.713)"><rect x="-454.84" y="-3.40" width="18.44" height="6.80" fill="#b0e4cb"/><text x="-437.10" y="1.77" font-size="5.2" text-anchor="end" fill="#111">TB0438</text></g><g transform="translate(768.3,530.1) rotate(295.190)"><rect x="-465.53" y="-3.40" width="29.13" height="6.80" fill="#b0e4cb"/><text x="-437.10" y="1.77" font-size="5.2" text-anchor="end" fill="#111">LM06-01004</text></g><g transform="translate(768.3,530.1) rotate(296.667)"><rect x="-460.62" y="-3.40" width="24.22" height="6.80" fill="#b0e4cb"/><text x="-437.10" y="1.77" font-size="5.2" text-anchor="end" fill="#111">LMNC106</text></g><g transform="translate(768.3,530.1) rotate(298.143)"><rect x="-462.93" y="-3.40" width="26.53" height="6.80" fill="#b0e4cb"/><text x="-437.10" y="1.77" font-size="5.2" text-anchor="end" fill="#111">LM07-1777</text></g><g transform="translate(768.3,530.1) rotate(299.620)"><rect x="-454.84" y="-3.40" width="18.44" height="6.80" fill="#b0e4cb"/><text x="-437.10" y="1.77" font-size="5.2" text-anchor="end" fill="#111">TB0469</text></g><g transform="translate(768.3,530.1) rotate(301.097)"><rect x="-460.62" y="-3.40" width="24.22" height="6.80" fill="#b0e4cb"/><text x="-437.10" y="1.77" font-size="5.2" text-anchor="end" fill="#111">LMNC377</text></g><g transform="translate(768.3,530.1) rotate(302.574)"><rect x="-460.62" y="-3.40" width="24.22" height="6.80" fill="#b0e4cb"/><text x="-437.10" y="1.77" font-size="5.2" text-anchor="end" fill="#111">LMNC297</text></g><g transform="translate(768.3,530.1) rotate(304.051)"><rect x="-454.84" y="-3.40" width="18.44" height="6.80" fill="#b0e4cb"/><text x="-437.10" y="1.77" font-size="5.2" text-anchor="end" fill="#111">TB0540</text></g><g transform="translate(768.3,530.1) rotate(305.527)"><rect x="-454.84" y="-3.40" width="18.44" height="6.80" fill="#b0e4cb"/><text x="-437.10" y="1.77" font-size="5.2" text-anchor="end" fill="#111">TB0527</text></g><g transform="translate(768.3,530.1) rotate(307.004)"><rect x="-454.84" y="-3.40" width="18.44" height="6.80" fill="#b0e4cb"/><text x="-437.10" y="1.77" font-size="5.2" text-anchor="end" fill="#111">TB0360</text></g><g transform="translate(768.3,530.1) rotate(308.481)"><rect x="-459.47" y="-3.40" width="23.07" height="6.80" fill="#b0e4cb"/><text x="-437.10" y="1.77" font-size="5.2" text-anchor="end" fill="#111">LMC3866</text></g><g transform="translate(768.3,530.1) rotate(309.958)"><rect x="-465.53" y="-3.40" width="29.13" height="6.80" fill="#b0e4cb"/><text x="-437.10" y="1.77" font-size="5.2" text-anchor="end" fill="#111">LM07-01298</text></g><g transform="translate(768.3,530.1) rotate(311.435)"><rect x="-454.84" y="-3.40" width="18.44" height="6.80" fill="#b0e4cb"/><text x="-437.10" y="1.77" font-size="5.2" text-anchor="end" fill="#111">TB0540</text></g><g transform="translate(768.3,530.1) rotate(312.911)"><rect x="-454.84" y="-3.40" width="18.44" height="6.80" fill="#b0e4cb"/><text x="-437.10" y="1.77" font-size="5.2" text-anchor="end" fill="#111">TB0512</text></g><g transform="translate(768.3,530.1) rotate(314.388)"><rect x="-454.84" y="-3.40" width="18.44" height="6.80" fill="#b0e4cb"/><text x="-437.10" y="1.77" font-size="5.2" text-anchor="end" fill="#111">TB0531</text></g><g transform="translate(768.3,530.1) rotate(315.865)"><rect x="-465.53" y="-3.40" width="29.13" height="6.80" fill="#b0e4cb"/><text x="-437.10" y="1.77" font-size="5.2" text-anchor="end" fill="#111">LM07-01377</text></g><g transform="translate(768.3,530.1) rotate(317.342)"><rect x="-460.62" y="-3.40" width="24.22" height="6.80" fill="#b0e4cb"/><text x="-437.10" y="1.77" font-size="5.2" text-anchor="end" fill="#111">LMNC253</text></g><g transform="translate(768.3,530.1) rotate(318.819)"><rect x="-460.62" y="-3.40" width="24.22" height="6.80" fill="#b0e4cb"/><text x="-437.10" y="1.77" font-size="5.2" text-anchor="end" fill="#111">LMNC248</text></g><g transform="translate(768.3,530.1) rotate(320.295)"><rect x="-460.62" y="-3.40" width="24.22" height="6.80" fill="#b0e4cb"/><text x="-437.10" y="1.77" font-size="5.2" text-anchor="end" fill="#111">LMNC257</text></g><g transform="translate(768.3,530.1) rotate(321.772)"><rect x="-460.62" y="-3.40" width="24.22" height="6.80" fill="#b0e4cb"/><text x="-437.10" y="1.77" font-size="5.2" text-anchor="end" fill="#111">LMNC247</text></g><g transform="translate(768.3,530.1) rotate(323.249)"><rect x="-460.62" y="-3.40" width="24.22" height="6.80" fill="#b0e4cb"/><text x="-437.10" y="1.77" font-size="5.2" text-anchor="end" fill="#111">LMNC244</text></g><g transform="translate(768.3,530.1) rotate(324.726)"><rect x="-460.62" y="-3.40" width="24.22" height="6.80" fill="#b0e4cb"/><text x="-437.10" y="1.77" font-size="5.2" text-anchor="end" fill="#111">LMNC331</text></g><g transform="translate(768.3,530.1) rotate(326.203)"><rect x="-453.12" y="-3.40" width="16.72" height="6.80" fill="#b0e4cb"/><text x="-437.10" y="1.77" font-size="5.2" text-anchor="end" fill="#111">JF4941</text></g><g transform="translate(768.3,530.1) rotate(327.679)"><rect x="-460.62" y="-3.40" width="24.22" height="6.80" fill="#b0e4cb"/><text x="-437.10" y="1.77" font-size="5.2" text-anchor="end" fill="#111">LMNC307</text></g><g transform="translate(768.3,530.1) rotate(329.156)"><rect x="-454.84" y="-3.40" width="18.44" height="6.80" fill="#b0e4cb"/><text x="-437.10" y="1.77" font-size="5.2" text-anchor="end" fill="#111">TB0433</text></g><g transform="translate(768.3,530.1) rotate(330.633)"><rect x="-454.84" y="-3.40" width="18.44" height="6.80" fill="#b0e4cb"/><text x="-437.10" y="1.77" font-size="5.2" text-anchor="end" fill="#111">TB0093</text></g><g transform="translate(768.3,530.1) rotate(332.110)"><rect x="-454.84" y="-3.40" width="18.44" height="6.80" fill="#b0e4cb"/><text x="-437.10" y="1.77" font-size="5.2" text-anchor="end" fill="#111">TB0094</text></g><g transform="translate(768.3,530.1) rotate(333.586)"><rect x="-454.84" y="-3.40" width="18.44" height="6.80" fill="#b0e4cb"/><text x="-437.10" y="1.77" font-size="5.2" text-anchor="end" fill="#111">TB0138</text></g><g transform="translate(768.3,530.1) rotate(335.063)"><rect x="-454.84" y="-3.40" width="18.44" height="6.80" fill="#b0e4cb"/><text x="-437.10" y="1.77" font-size="5.2" text-anchor="end" fill="#111">TB0308</text></g><g transform="translate(768.3,530.1) rotate(336.540)"><rect x="-454.84" y="-3.40" width="18.44" height="6.80" fill="#b0e4cb"/><text x="-437.10" y="1.77" font-size="5.2" text-anchor="end" fill="#111">TB0446</text></g><g transform="translate(768.3,530.1) rotate(338.017)"><rect x="-474.20" y="-4.68" width="37.80" height="9.36" fill="#ffbcc4"/><text x="-437.10" y="2.65" font-size="7.8" text-anchor="end" font-weight="bold" fill="#101a20">FSLJ1-208</text></g><g transform="translate(768.3,530.1) rotate(339.494)"><rect x="-454.84" y="-3.40" width="18.44" height="6.80" fill="#fdd6ae"/><text x="-437.10" y="1.77" font-size="5.2" text-anchor="end" fill="#111">TB0462</text></g><g transform="translate(768.3,530.1) rotate(340.970)"><rect x="-460.62" y="-3.40" width="24.22" height="6.80" fill="#fdd6ae"/><text x="-437.10" y="1.77" font-size="5.2" text-anchor="end" fill="#111">LMNC326</text></g><g transform="translate(768.3,530.1) rotate(342.447)"><rect x="-460.62" y="-3.40" width="24.22" height="6.80" fill="#fdd6ae"/><text x="-437.10" y="1.77" font-size="5.2" text-anchor="end" fill="#111">LMNC318</text></g><g transform="translate(768.3,530.1) rotate(343.924)"><rect x="-454.84" y="-3.40" width="18.44" height="6.80" fill="#fdd6ae"/><text x="-437.10" y="1.77" font-size="5.2" text-anchor="end" fill="#111">TB0453</text></g><g transform="translate(768.3,530.1) rotate(345.401)"><rect x="-454.84" y="-3.40" width="18.44" height="6.80" fill="#fdd6ae"/><text x="-437.10" y="1.77" font-size="5.2" text-anchor="end" fill="#111">TB0308</text></g><g transform="translate(768.3,530.1) rotate(346.878)"><rect x="-462.93" y="-4.68" width="26.53" height="9.36" fill="#fdd6ae"/><text x="-437.10" y="2.65" font-size="7.8" text-anchor="end" font-weight="bold" fill="#101a20">HCC23</text></g><g transform="translate(768.3,530.1) rotate(348.354)"><rect x="-454.84" y="-3.40" width="18.44" height="6.80" fill="#fdd6ae"/><text x="-437.10" y="1.77" font-size="5.2" text-anchor="end" fill="#111">TB0430</text></g><g transform="translate(768.3,530.1) rotate(349.831)"><rect x="-454.84" y="-3.40" width="18.44" height="6.80" fill="#fdd6ae"/><text x="-437.10" y="1.77" font-size="5.2" text-anchor="end" fill="#111">TB0157</text></g><g transform="translate(768.3,530.1) rotate(351.308)"><rect x="-454.84" y="-3.40" width="18.44" height="6.80" fill="#b6e2fa"/><text x="-437.10" y="1.77" font-size="5.2" text-anchor="end" fill="#111">TB0545</text></g><g transform="translate(768.3,530.1) rotate(352.785)"><rect x="-454.84" y="-3.40" width="18.44" height="6.80" fill="#b6e2fa"/><text x="-437.10" y="1.77" font-size="5.2" text-anchor="end" fill="#111">TB0543</text></g><g transform="translate(768.3,530.1) rotate(354.262)"><rect x="-454.65" y="-3.40" width="18.25" height="6.80" fill="#b6e2fa"/><text x="-437.10" y="1.77" font-size="5.2" text-anchor="end" fill="#111">TB0110</text></g><g transform="translate(768.3,530.1) rotate(355.738)"><rect x="-454.84" y="-3.40" width="18.44" height="6.80" fill="#b6e2fa"/><text x="-437.10" y="1.77" font-size="5.2" text-anchor="end" fill="#111">TB0437</text></g><g transform="translate(768.3,530.1) rotate(357.215)"><rect x="-465.53" y="-3.40" width="29.13" height="6.80" fill="#b6e2fa"/><text x="-437.10" y="1.77" font-size="5.2" text-anchor="end" fill="#111">LM05-00704</text></g><g transform="translate(768.3,530.1) rotate(358.692)"><rect x="-454.84" y="-3.40" width="18.44" height="6.80" fill="#b6e2fa"/><text x="-437.10" y="1.77" font-size="5.2" text-anchor="end" fill="#111">TB0633</text></g><g transform="translate(768.3,530.1) rotate(360.169)"><rect x="-474.21" y="-4.68" width="37.81" height="9.36" fill="#b6e2fa"/><text x="-437.10" y="2.65" font-size="7.8" text-anchor="end" font-weight="bold" fill="#101a20">SLCC2540</text></g><g transform="translate(768.3,530.1) rotate(361.646)"><rect x="-454.84" y="-3.40" width="18.44" height="6.80" fill="#b6e2fa"/><text x="-437.10" y="1.77" font-size="5.2" text-anchor="end" fill="#111">TB0429</text></g><g transform="translate(768.3,530.1) rotate(363.122)"><rect x="-465.53" y="-3.40" width="29.13" height="6.80" fill="#b6e2fa"/><text x="-437.10" y="1.77" font-size="5.2" text-anchor="end" fill="#111">LM07-01067</text></g><g transform="translate(768.3,530.1) rotate(364.599)"><rect x="-454.84" y="-3.40" width="18.44" height="6.80" fill="#b6e2fa"/><text x="-437.10" y="1.77" font-size="5.2" text-anchor="end" fill="#111">TB0436</text></g><g transform="translate(768.3,530.1) rotate(366.076)"><rect x="-454.84" y="-3.40" width="18.44" height="6.80" fill="#b6e2fa"/><text x="-437.10" y="1.77" font-size="5.2" text-anchor="end" fill="#111">TB0432</text></g><g transform="translate(768.3,530.1) rotate(367.553)"><rect x="-454.84" y="-3.40" width="18.44" height="6.80" fill="#b6e2fa"/><text x="-437.10" y="1.77" font-size="5.2" text-anchor="end" fill="#111">TB0579</text></g><g transform="translate(768.3,530.1) rotate(369.030)"><rect x="-460.62" y="-3.40" width="24.22" height="6.80" fill="#b6e2fa"/><text x="-437.10" y="1.77" font-size="5.2" text-anchor="end" fill="#111">LMNC060</text></g><g transform="translate(768.3,530.1) rotate(370.506)"><rect x="-460.62" y="-3.40" width="24.22" height="6.80" fill="#b6e2fa"/><text x="-437.10" y="1.77" font-size="5.2" text-anchor="end" fill="#111">LMNC277</text></g><g transform="translate(768.3,530.1) rotate(371.983)"><rect x="-465.53" y="-3.40" width="29.13" height="6.80" fill="#b6e2fa"/><text x="-437.10" y="1.77" font-size="5.2" text-anchor="end" fill="#111">LM06-00938</text></g><g transform="translate(768.3,530.1) rotate(373.460)"><rect x="-454.84" y="-3.40" width="18.44" height="6.80" fill="#b6e2fa"/><text x="-437.10" y="1.77" font-size="5.2" text-anchor="end" fill="#111">TB0159</text></g><g transform="translate(768.3,530.1) rotate(374.937)"><rect x="-465.53" y="-3.40" width="29.13" height="6.80" fill="#b6e2fa"/><text x="-437.10" y="1.77" font-size="5.2" text-anchor="end" fill="#111">LM08-01516</text></g><g transform="translate(768.3,530.1) rotate(376.414)"><rect x="-454.84" y="-3.40" width="18.44" height="6.80" fill="#b6e2fa"/><text x="-437.10" y="1.77" font-size="5.2" text-anchor="end" fill="#111">TB0404</text></g><g transform="translate(768.3,530.1) rotate(377.890)"><rect x="-454.84" y="-3.40" width="18.44" height="6.80" fill="#b6e2fa"/><text x="-437.10" y="1.77" font-size="5.2" text-anchor="end" fill="#111">TB0405</text></g><g transform="translate(768.3,530.1) rotate(379.367)"><rect x="-465.53" y="-3.40" width="29.13" height="6.80" fill="#b6e2fa"/><text x="-437.10" y="1.77" font-size="5.2" text-anchor="end" fill="#111">LM07-00876</text></g><g transform="translate(768.3,530.1) rotate(380.844)"><rect x="-454.84" y="-3.40" width="18.44" height="6.80" fill="#b6e2fa"/><text x="-437.10" y="1.77" font-size="5.2" text-anchor="end" fill="#111">TB0434</text></g><g transform="translate(768.3,530.1) rotate(382.321)"><rect x="-454.84" y="-3.40" width="18.44" height="6.80" fill="#b6e2fa"/><text x="-437.10" y="1.77" font-size="5.2" text-anchor="end" fill="#111">TB0535</text></g><g transform="translate(768.3,530.1) rotate(383.797)"><rect x="-454.84" y="-3.40" width="18.44" height="6.80" fill="#b6e2fa"/><text x="-437.10" y="1.77" font-size="5.2" text-anchor="end" fill="#111">TB0140</text></g><g transform="translate(768.3,530.1) rotate(385.274)"><rect x="-454.84" y="-3.40" width="18.44" height="6.80" fill="#b6e2fa"/><text x="-437.10" y="1.77" font-size="5.2" text-anchor="end" fill="#111">TB0435</text></g><g transform="translate(768.3,530.1) rotate(386.751)"><rect x="-465.53" y="-3.40" width="29.13" height="6.80" fill="#b6e2fa"/><text x="-437.10" y="1.77" font-size="5.2" text-anchor="end" fill="#111">LM07-00596</text></g><g transform="translate(768.3,530.1) rotate(388.228)"><rect x="-465.53" y="-3.40" width="29.13" height="6.80" fill="#b6e2fa"/><text x="-437.10" y="1.77" font-size="5.2" text-anchor="end" fill="#111">LM05-00172</text></g><g transform="translate(768.3,530.1) rotate(389.705)"><rect x="-465.53" y="-3.40" width="29.13" height="6.80" fill="#b6e2fa"/><text x="-437.10" y="1.77" font-size="5.2" text-anchor="end" fill="#111">LM05-00808</text></g><g transform="translate(768.3,530.1) rotate(391.181)"><rect x="-453.12" y="-3.40" width="16.72" height="6.80" fill="#b6e2fa"/><text x="-437.10" y="1.77" font-size="5.2" text-anchor="end" fill="#111">JF5201</text></g><g transform="translate(768.3,530.1) rotate(392.658)"><rect x="-454.84" y="-3.40" width="18.44" height="6.80" fill="#b6e2fa"/><text x="-437.10" y="1.77" font-size="5.2" text-anchor="end" fill="#111">TB0548</text></g><g transform="translate(768.3,530.1) rotate(394.135)"><rect x="-454.84" y="-3.40" width="18.44" height="6.80" fill="#b6e2fa"/><text x="-437.10" y="1.77" font-size="5.2" text-anchor="end" fill="#111">TB0549</text></g><g transform="translate(768.3,530.1) rotate(395.612)"><rect x="-454.84" y="-3.40" width="18.44" height="6.80" fill="#b6e2fa"/><text x="-437.10" y="1.77" font-size="5.2" text-anchor="end" fill="#111">TB0545</text></g><g transform="translate(768.3,530.1) rotate(397.089)"><rect x="-454.84" y="-3.40" width="18.44" height="6.80" fill="#b6e2fa"/><text x="-437.10" y="1.77" font-size="5.2" text-anchor="end" fill="#111">TB0206</text></g><g transform="translate(768.3,530.1) rotate(398.565)"><rect x="-454.84" y="-3.40" width="18.44" height="6.80" fill="#b6e2fa"/><text x="-437.10" y="1.77" font-size="5.2" text-anchor="end" fill="#111">TB0514</text></g><g transform="translate(768.3,530.1) rotate(400.042)"><rect x="-454.84" y="-3.40" width="18.44" height="6.80" fill="#b6e2fa"/><text x="-437.10" y="1.77" font-size="5.2" text-anchor="end" fill="#111">TB0513</text></g><g transform="translate(768.3,530.1) rotate(401.519)"><rect x="-454.84" y="-3.40" width="18.44" height="6.80" fill="#b6e2fa"/><text x="-437.10" y="1.77" font-size="5.2" text-anchor="end" fill="#111">TB0510</text></g><g transform="translate(768.3,530.1) rotate(402.996)"><rect x="-454.84" y="-3.40" width="18.44" height="6.80" fill="#b6e2fa"/><text x="-437.10" y="1.77" font-size="5.2" text-anchor="end" fill="#111">TB0549</text></g><g transform="translate(768.3,530.1) rotate(404.473)"><rect x="-454.84" y="-3.40" width="18.44" height="6.80" fill="#b6e2fa"/><text x="-437.10" y="1.77" font-size="5.2" text-anchor="end" fill="#111">TB0533</text></g><g transform="translate(768.3,530.1) rotate(405.949)"><rect x="-453.12" y="-3.40" width="16.72" height="6.80" fill="#b6e2fa"/><text x="-437.10" y="1.77" font-size="5.2" text-anchor="end" fill="#111">JF4998</text></g><g transform="translate(768.3,530.1) rotate(407.426)"><rect x="-453.12" y="-3.40" width="16.72" height="6.80" fill="#b6e2fa"/><text x="-437.10" y="1.77" font-size="5.2" text-anchor="end" fill="#111">JF5310</text></g><g transform="translate(768.3,530.1) rotate(408.903)"><rect x="-453.12" y="-3.40" width="16.72" height="6.80" fill="#b6e2fa"/><text x="-437.10" y="1.77" font-size="5.2" text-anchor="end" fill="#111">JF4934</text></g><g transform="translate(768.3,530.1) rotate(410.380)"><rect x="-453.12" y="-3.40" width="16.72" height="6.80" fill="#b6e2fa"/><text x="-437.10" y="1.77" font-size="5.2" text-anchor="end" fill="#111">JF4906</text></g><g transform="translate(768.3,530.1) rotate(411.857)"><rect x="-453.12" y="-3.40" width="16.72" height="6.80" fill="#b6e2fa"/><text x="-437.10" y="1.77" font-size="5.2" text-anchor="end" fill="#111">JF5319</text></g><g transform="translate(768.3,530.1) rotate(413.333)"><rect x="-453.12" y="-3.40" width="16.72" height="6.80" fill="#b6e2fa"/><text x="-437.10" y="1.77" font-size="5.2" text-anchor="end" fill="#111">JF4869</text></g><g transform="translate(768.3,530.1) rotate(414.810)"><rect x="-453.12" y="-3.40" width="16.72" height="6.80" fill="#b6e2fa"/><text x="-437.10" y="1.77" font-size="5.2" text-anchor="end" fill="#111">JF5218</text></g><g transform="translate(768.3,530.1) rotate(416.287)"><rect x="-460.62" y="-3.40" width="24.22" height="6.80" fill="#b6e2fa"/><text x="-437.10" y="1.77" font-size="5.2" text-anchor="end" fill="#111">LMNC302</text></g><g transform="translate(768.3,530.1) rotate(417.764)"><rect x="-460.62" y="-3.40" width="24.22" height="6.80" fill="#b6e2fa"/><text x="-437.10" y="1.77" font-size="5.2" text-anchor="end" fill="#111">LMNC079</text></g><g transform="translate(768.3,530.1) rotate(419.241)"><rect x="-460.62" y="-3.40" width="24.22" height="6.80" fill="#b6e2fa"/><text x="-437.10" y="1.77" font-size="5.2" text-anchor="end" fill="#111">LMNC081</text></g><g transform="translate(768.3,530.1) rotate(420.717)"><rect x="-453.12" y="-3.40" width="16.72" height="6.80" fill="#b6e2fa"/><text x="-437.10" y="1.77" font-size="5.2" text-anchor="end" fill="#111">JF5163</text></g><g transform="translate(768.3,530.1) rotate(422.194)"><rect x="-454.84" y="-3.40" width="18.44" height="6.80" fill="#b6e2fa"/><text x="-437.10" y="1.77" font-size="5.2" text-anchor="end" fill="#111">TB0532</text></g><g transform="translate(768.3,530.1) rotate(423.671)"><rect x="-454.84" y="-3.40" width="18.44" height="6.80" fill="#b6e2fa"/><text x="-437.10" y="1.77" font-size="5.2" text-anchor="end" fill="#111">TB0251</text></g><g transform="translate(768.3,530.1) rotate(425.148)"><rect x="-454.84" y="-3.40" width="18.44" height="6.80" fill="#b6e2fa"/><text x="-437.10" y="1.77" font-size="5.2" text-anchor="end" fill="#111">TB0526</text></g><g transform="translate(768.3,530.1) rotate(426.624)"><rect x="-460.62" y="-3.40" width="24.22" height="6.80" fill="#b6e2fa"/><text x="-437.10" y="1.77" font-size="5.2" text-anchor="end" fill="#111">LMNC096</text></g><g transform="translate(768.3,530.1) rotate(428.101)"><rect x="-453.12" y="-3.40" width="16.72" height="6.80" fill="#b6e2fa"/><text x="-437.10" y="1.77" font-size="5.2" text-anchor="end" fill="#111">JF5261</text></g><g transform="translate(768.3,530.1) rotate(429.578)"><rect x="-453.12" y="-3.40" width="16.72" height="6.80" fill="#b6e2fa"/><text x="-437.10" y="1.77" font-size="5.2" text-anchor="end" fill="#111">JF5260</text></g><g transform="translate(768.3,530.1) rotate(431.055)"><rect x="-460.62" y="-3.40" width="24.22" height="6.80" fill="#b6e2fa"/><text x="-437.10" y="1.77" font-size="5.2" text-anchor="end" fill="#111">LMNC281</text></g><g transform="translate(768.3,530.1) rotate(432.532)"><rect x="-460.62" y="-3.40" width="24.22" height="6.80" fill="#b6e2fa"/><text x="-437.10" y="1.77" font-size="5.2" text-anchor="end" fill="#111">LMNC278</text></g><g transform="translate(768.3,530.1) rotate(434.008)"><rect x="-453.12" y="-3.40" width="16.72" height="6.80" fill="#b6e2fa"/><text x="-437.10" y="1.77" font-size="5.2" text-anchor="end" fill="#111">JF4927</text></g><g transform="translate(768.3,530.1) rotate(435.485)"><rect x="-453.12" y="-3.40" width="16.72" height="6.80" fill="#b6e2fa"/><text x="-437.10" y="1.77" font-size="5.2" text-anchor="end" fill="#111">JF4903</text></g><g transform="translate(768.3,530.1) rotate(436.962)"><rect x="-460.62" y="-3.40" width="24.22" height="6.80" fill="#b6e2fa"/><text x="-437.10" y="1.77" font-size="5.2" text-anchor="end" fill="#111">LMNC352</text></g><g transform="translate(768.3,530.1) rotate(438.439)"><rect x="-453.12" y="-3.40" width="16.72" height="6.80" fill="#b6e2fa"/><text x="-437.10" y="1.77" font-size="5.2" text-anchor="end" fill="#111">JF4903</text></g><g transform="translate(768.3,530.1) rotate(439.916)"><rect x="-453.12" y="-3.40" width="16.72" height="6.80" fill="#b6e2fa"/><text x="-437.10" y="1.77" font-size="5.2" text-anchor="end" fill="#111">JF5238</text></g><g transform="translate(768.3,530.1) rotate(441.392)"><rect x="-460.62" y="-3.40" width="24.22" height="6.80" fill="#b6e2fa"/><text x="-437.10" y="1.77" font-size="5.2" text-anchor="end" fill="#111">LMNC310</text></g><g transform="translate(768.3,530.1) rotate(442.869)"><rect x="-460.62" y="-3.40" width="24.22" height="6.80" fill="#b6e2fa"/><text x="-437.10" y="1.77" font-size="5.2" text-anchor="end" fill="#111">LMNC328</text></g><g transform="translate(768.3,530.1) rotate(444.346)"><rect x="-460.62" y="-3.40" width="24.22" height="6.80" fill="#b6e2fa"/><text x="-437.10" y="1.77" font-size="5.2" text-anchor="end" fill="#111">LMNC326</text></g><g transform="translate(768.3,530.1) rotate(445.823)"><rect x="-460.62" y="-3.40" width="24.22" height="6.80" fill="#b6e2fa"/><text x="-437.10" y="1.77" font-size="5.2" text-anchor="end" fill="#111">LMNC302</text></g><g transform="translate(768.3,530.1) rotate(447.300)"><rect x="-453.12" y="-3.40" width="16.72" height="6.80" fill="#b6e2fa"/><text x="-437.10" y="1.77" font-size="5.2" text-anchor="end" fill="#111">JF5241</text></g><g transform="translate(768.3,530.1) rotate(448.776)"><rect x="-453.12" y="-3.40" width="16.72" height="6.80" fill="#b6e2fa"/><text x="-437.10" y="1.77" font-size="5.2" text-anchor="end" fill="#111">JF5246</text></g><g transform="translate(768.3,530.1) rotate(270.253)"><rect x="436.40" y="-3.40" width="16.72" height="6.80" fill="#b6e2fa"/><text x="437.10" y="1.77" font-size="5.2" text-anchor="start" fill="#111">JF4868</text></g><g transform="translate(768.3,530.1) rotate(271.730)"><rect x="436.40" y="-3.40" width="29.13" height="6.80" fill="#b6e2fa"/><text x="437.10" y="1.77" font-size="5.2" text-anchor="start" fill="#111">LM10-00505</text></g><g transform="translate(768.3,530.1) rotate(273.207)"><rect x="436.40" y="-3.40" width="16.72" height="6.80" fill="#b6e2fa"/><text x="437.10" y="1.77" font-size="5.2" text-anchor="start" fill="#111">JF4974</text></g><g transform="translate(768.3,530.1) rotate(274.684)"><rect x="436.40" y="-3.40" width="16.72" height="6.80" fill="#b6e2fa"/><text x="437.10" y="1.77" font-size="5.2" text-anchor="start" fill="#111">JF4978</text></g><g transform="translate(768.3,530.1) rotate(276.160)"><rect x="436.40" y="-3.40" width="18.44" height="6.80" fill="#b6e2fa"/><text x="437.10" y="1.77" font-size="5.2" text-anchor="start" fill="#111">TB0553</text></g><g transform="translate(768.3,530.1) rotate(277.637)"><rect x="436.40" y="-3.40" width="18.44" height="6.80" fill="#b6e2fa"/><text x="437.10" y="1.77" font-size="5.2" text-anchor="start" fill="#111">TB0549</text></g><g transform="translate(768.3,530.1) rotate(279.114)"><rect x="436.40" y="-3.40" width="18.44" height="6.80" fill="#b6e2fa"/><text x="437.10" y="1.77" font-size="5.2" text-anchor="start" fill="#111">TB0567</text></g><g transform="translate(768.3,530.1) rotate(280.591)"><rect x="436.40" y="-3.40" width="18.44" height="6.80" fill="#b6e2fa"/><text x="437.10" y="1.77" font-size="5.2" text-anchor="start" fill="#111">TB0558</text></g><g transform="translate(768.3,530.1) rotate(282.068)"><rect x="436.40" y="-3.40" width="18.44" height="6.80" fill="#b6e2fa"/><text x="437.10" y="1.77" font-size="5.2" text-anchor="start" fill="#111">TB0164</text></g><g transform="translate(768.3,530.1) rotate(283.544)"><rect x="436.40" y="-3.40" width="18.44" height="6.80" fill="#b6e2fa"/><text x="437.10" y="1.77" font-size="5.2" text-anchor="start" fill="#111">TB0086</text></g><g transform="translate(768.3,530.1) rotate(285.021)"><rect x="436.40" y="-3.40" width="18.25" height="6.80" fill="#b6e2fa"/><text x="437.10" y="1.77" font-size="5.2" text-anchor="start" fill="#111">TB0118</text></g><g transform="translate(768.3,530.1) rotate(286.498)"><rect x="436.40" y="-3.40" width="18.44" height="6.80" fill="#b6e2fa"/><text x="437.10" y="1.77" font-size="5.2" text-anchor="start" fill="#111">TB0427</text></g><g transform="translate(768.3,530.1) rotate(287.975)"><rect x="436.40" y="-3.40" width="18.44" height="6.80" fill="#b6e2fa"/><text x="437.10" y="1.77" font-size="5.2" text-anchor="start" fill="#111">TB0080</text></g><g transform="translate(768.3,530.1) rotate(289.451)"><rect x="436.40" y="-4.68" width="37.80" height="9.36" fill="#b6e2fa"/><text x="437.10" y="2.65" font-size="7.8" text-anchor="start" font-weight="bold" fill="#101a20">FSLJ1-220</text></g><g transform="translate(768.3,530.1) rotate(290.928)"><rect x="436.40" y="-3.40" width="29.13" height="6.80" fill="#b6e2fa"/><text x="437.10" y="1.77" font-size="5.2" text-anchor="start" fill="#111">LM09-00953</text></g><g transform="translate(768.3,530.1) rotate(292.405)"><rect x="436.40" y="-3.40" width="18.44" height="6.80" fill="#b6e2fa"/><text x="437.10" y="1.77" font-size="5.2" text-anchor="start" fill="#111">TB0028</text></g><g transform="translate(768.3,530.1) rotate(293.882)"><rect x="436.40" y="-3.40" width="18.44" height="6.80" fill="#b6e2fa"/><text x="437.10" y="1.77" font-size="5.2" text-anchor="start" fill="#111">TB0529</text></g><g transform="translate(768.3,530.1) rotate(295.359)"><rect x="436.40" y="-3.40" width="18.44" height="6.80" fill="#b6e2fa"/><text x="437.10" y="1.77" font-size="5.2" text-anchor="start" fill="#111">TB0528</text></g><g transform="translate(768.3,530.1) rotate(296.835)"><rect x="436.40" y="-3.40" width="18.44" height="6.80" fill="#b6e2fa"/><text x="437.10" y="1.77" font-size="5.2" text-anchor="start" fill="#111">TB0559</text></g><g transform="translate(768.3,530.1) rotate(298.312)"><rect x="436.40" y="-3.40" width="18.44" height="6.80" fill="#b6e2fa"/><text x="437.10" y="1.77" font-size="5.2" text-anchor="start" fill="#111">TB0557</text></g><g transform="translate(768.3,530.1) rotate(299.789)"><rect x="436.40" y="-3.40" width="29.13" height="6.80" fill="#b6e2fa"/><text x="437.10" y="1.77" font-size="5.2" text-anchor="start" fill="#111">LM06-01027</text></g><g transform="translate(768.3,530.1) rotate(301.266)"><rect x="436.40" y="-3.40" width="29.13" height="6.80" fill="#b6e2fa"/><text x="437.10" y="1.77" font-size="5.2" text-anchor="start" fill="#111">LM09-01090</text></g><g transform="translate(768.3,530.1) rotate(302.743)"><rect x="436.40" y="-3.40" width="24.22" height="6.80" fill="#b6e2fa"/><text x="437.10" y="1.77" font-size="5.2" text-anchor="start" fill="#111">LMNC273</text></g><g transform="translate(768.3,530.1) rotate(304.219)"><rect x="436.40" y="-3.40" width="18.44" height="6.80" fill="#b6e2fa"/><text x="437.10" y="1.77" font-size="5.2" text-anchor="start" fill="#111">TB0502</text></g><g transform="translate(768.3,530.1) rotate(305.696)"><rect x="436.40" y="-3.40" width="29.13" height="6.80" fill="#b6e2fa"/><text x="437.10" y="1.77" font-size="5.2" text-anchor="start" fill="#111">LM09-00373</text></g><g transform="translate(768.3,530.1) rotate(307.173)"><rect x="436.40" y="-3.40" width="29.13" height="6.80" fill="#b6e2fa"/><text x="437.10" y="1.77" font-size="5.2" text-anchor="start" fill="#111">LM06-00581</text></g><g transform="translate(768.3,530.1) rotate(308.650)"><rect x="436.40" y="-3.40" width="24.22" height="6.80" fill="#b6e2fa"/><text x="437.10" y="1.77" font-size="5.2" text-anchor="start" fill="#111">LMNC358</text></g><g transform="translate(768.3,530.1) rotate(310.127)"><rect x="436.40" y="-3.40" width="24.22" height="6.80" fill="#b6e2fa"/><text x="437.10" y="1.77" font-size="5.2" text-anchor="start" fill="#111">LMNC363</text></g><g transform="translate(768.3,530.1) rotate(311.603)"><rect x="436.40" y="-3.40" width="18.44" height="6.80" fill="#b6e2fa"/><text x="437.10" y="1.77" font-size="5.2" text-anchor="start" fill="#111">TB0542</text></g><g transform="translate(768.3,530.1) rotate(313.080)"><rect x="436.40" y="-3.40" width="18.44" height="6.80" fill="#b6e2fa"/><text x="437.10" y="1.77" font-size="5.2" text-anchor="start" fill="#111">TB0554</text></g><g transform="translate(768.3,530.1) rotate(314.557)"><rect x="436.40" y="-3.40" width="18.44" height="6.80" fill="#b6e2fa"/><text x="437.10" y="1.77" font-size="5.2" text-anchor="start" fill="#111">TB0547</text></g><g transform="translate(768.3,530.1) rotate(316.034)"><rect x="436.40" y="-3.40" width="18.44" height="6.80" fill="#b6e2fa"/><text x="437.10" y="1.77" font-size="5.2" text-anchor="start" fill="#111">TB0533</text></g><g transform="translate(768.3,530.1) rotate(317.511)"><rect x="436.40" y="-3.40" width="24.22" height="6.80" fill="#b6e2fa"/><text x="437.10" y="1.77" font-size="5.2" text-anchor="start" fill="#111">LMNC294</text></g><g transform="translate(768.3,530.1) rotate(318.987)"><rect x="436.40" y="-3.40" width="18.44" height="6.80" fill="#b6e2fa"/><text x="437.10" y="1.77" font-size="5.2" text-anchor="start" fill="#111">TB0443</text></g><g transform="translate(768.3,530.1) rotate(320.464)"><rect x="436.40" y="-3.40" width="18.44" height="6.80" fill="#b6e2fa"/><text x="437.10" y="1.77" font-size="5.2" text-anchor="start" fill="#111">TB0565</text></g><g transform="translate(768.3,530.1) rotate(321.941)"><rect x="436.40" y="-3.40" width="18.44" height="6.80" fill="#b6e2fa"/><text x="437.10" y="1.77" font-size="5.2" text-anchor="start" fill="#111">TB0483</text></g><g transform="translate(768.3,530.1) rotate(323.418)"><rect x="436.40" y="-3.40" width="18.44" height="6.80" fill="#b6e2fa"/><text x="437.10" y="1.77" font-size="5.2" text-anchor="start" fill="#111">TB0544</text></g><g transform="translate(768.3,530.1) rotate(324.895)"><rect x="436.40" y="-3.40" width="18.44" height="6.80" fill="#b6e2fa"/><text x="437.10" y="1.77" font-size="5.2" text-anchor="start" fill="#111">TB0508</text></g><g transform="translate(768.3,530.1) rotate(326.371)"><rect x="436.40" y="-3.40" width="18.44" height="6.80" fill="#b6e2fa"/><text x="437.10" y="1.77" font-size="5.2" text-anchor="start" fill="#111">TB0563</text></g><g transform="translate(768.3,530.1) rotate(327.848)"><rect x="436.40" y="-3.40" width="18.44" height="6.80" fill="#b6e2fa"/><text x="437.10" y="1.77" font-size="5.2" text-anchor="start" fill="#111">TB0621</text></g><g transform="translate(768.3,530.1) rotate(329.325)"><rect x="436.40" y="-3.40" width="18.44" height="6.80" fill="#b6e2fa"/><text x="437.10" y="1.77" font-size="5.2" text-anchor="start" fill="#111">TB0532</text></g><g transform="translate(768.3,530.1) rotate(330.802)"><rect x="436.40" y="-3.40" width="18.44" height="6.80" fill="#b6e2fa"/><text x="437.10" y="1.77" font-size="5.2" text-anchor="start" fill="#111">TB0386</text></g><g transform="translate(768.3,530.1) rotate(332.278)"><rect x="436.40" y="-3.40" width="24.22" height="6.80" fill="#b6e2fa"/><text x="437.10" y="1.77" font-size="5.2" text-anchor="start" fill="#111">LMNC316</text></g><g transform="translate(768.3,530.1) rotate(333.755)"><rect x="436.40" y="-3.40" width="24.22" height="6.80" fill="#b6e2fa"/><text x="437.10" y="1.77" font-size="5.2" text-anchor="start" fill="#111">LMNC327</text></g><g transform="translate(768.3,530.1) rotate(335.232)"><rect x="436.40" y="-3.40" width="29.13" height="6.80" fill="#b6e2fa"/><text x="437.10" y="1.77" font-size="5.2" text-anchor="start" fill="#111">LM05-00198</text></g><g transform="translate(768.3,530.1) rotate(336.709)"><rect x="436.40" y="-3.40" width="16.72" height="6.80" fill="#b6e2fa"/><text x="437.10" y="1.77" font-size="5.2" text-anchor="start" fill="#111">JF4907</text></g><g transform="translate(768.3,530.1) rotate(338.186)"><rect x="436.40" y="-3.40" width="24.22" height="6.80" fill="#b6e2fa"/><text x="437.10" y="1.77" font-size="5.2" text-anchor="start" fill="#111">LMNC383</text></g><g transform="translate(768.3,530.1) rotate(339.662)"><rect x="436.40" y="-3.40" width="24.22" height="6.80" fill="#b6e2fa"/><text x="437.10" y="1.77" font-size="5.2" text-anchor="start" fill="#111">LMNC384</text></g><g transform="translate(768.3,530.1) rotate(341.139)"><rect x="436.40" y="-3.40" width="24.22" height="6.80" fill="#b6e2fa"/><text x="437.10" y="1.77" font-size="5.2" text-anchor="start" fill="#111">LMNC265</text></g><g transform="translate(768.3,530.1) rotate(342.616)"><rect x="436.40" y="-3.40" width="24.22" height="6.80" fill="#b6e2fa"/><text x="437.10" y="1.77" font-size="5.2" text-anchor="start" fill="#111">LMNC271</text></g><g transform="translate(768.3,530.1) rotate(344.093)"><rect x="436.40" y="-3.40" width="24.22" height="6.80" fill="#b6e2fa"/><text x="437.10" y="1.77" font-size="5.2" text-anchor="start" fill="#111">LMNC274</text></g><g transform="translate(768.3,530.1) rotate(345.570)"><rect x="436.40" y="-3.40" width="24.22" height="6.80" fill="#b6e2fa"/><text x="437.10" y="1.77" font-size="5.2" text-anchor="start" fill="#111">LMNC337</text></g><g transform="translate(768.3,530.1) rotate(347.046)"><rect x="436.40" y="-3.40" width="24.22" height="6.80" fill="#b6e2fa"/><text x="437.10" y="1.77" font-size="5.2" text-anchor="start" fill="#111">LMNC336</text></g><g transform="translate(768.3,530.1) rotate(348.523)"><rect x="436.40" y="-3.40" width="24.22" height="6.80" fill="#b6e2fa"/><text x="437.10" y="1.77" font-size="5.2" text-anchor="start" fill="#111">LMNC281</text></g><g transform="translate(768.3,530.1) rotate(350.000)"><rect x="436.40" y="-3.40" width="24.22" height="6.80" fill="#b6e2fa"/><text x="437.10" y="1.77" font-size="5.2" text-anchor="start" fill="#111">LMNC303</text></g></g>
<path d="M393.60,829.80H401.80M395.50,826.40Q397.70,829.20 397.70,829.80Q397.70,830.40 399.90,833.20M399.90,826.40Q397.70,829.20 397.70,829.80Q397.70,830.40 395.50,833.20" stroke="#f52a2a" stroke-width="1.25" fill="none" stroke-linecap="round"/>
<path d="M715.30,1004.90H723.50M717.20,1001.50Q719.40,1004.30 719.40,1004.90Q719.40,1005.50 721.60,1008.30M721.60,1001.50Q719.40,1004.30 719.40,1004.90Q719.40,1005.50 717.20,1008.30" stroke="#222" stroke-width="1.25" fill="none" stroke-linecap="round"/>
<g font-family="Liberation Serif, serif"><rect x="43.5" y="57" width="64.1" height="159.3" fill="#fff" stroke="#eeeeee" stroke-width="1"/><text x="48.2" y="74.5" font-size="16" font-weight="bold" fill="#111">Lineage</text><line x1="46" y1="83.2" x2="104.1" y2="83.2" stroke="#8a8a8a" stroke-width="1.4"/><rect x="48.6" y="91.1" width="20.6" height="20.6" fill="#7fe0ff" stroke="#5a5a5a" stroke-opacity="0.7" stroke-width="1"/><text x="80" y="106.6" font-size="16" fill="#222">1</text><rect x="48.6" y="123.0" width="20.6" height="20.6" fill="#a8dcb8" stroke="#5a5a5a" stroke-opacity="0.7" stroke-width="1"/><text x="80" y="138.5" font-size="16" fill="#222">2</text><rect x="48.6" y="154.9" width="20.6" height="20.6" fill="#ffcc99" stroke="#5a5a5a" stroke-opacity="0.7" stroke-width="1"/><text x="80" y="170.4" font-size="16" fill="#222">3</text><rect x="48.6" y="186.7" width="20.6" height="20.6" fill="#ffa0c0" stroke="#5a5a5a" stroke-opacity="0.7" stroke-width="1"/><text x="80" y="202.2" font-size="16" fill="#222">4</text><rect x="43.5" y="248" width="87.1" height="701.3" fill="#fff" stroke="#eeeeee" stroke-width="1"/><text x="48.2" y="265.5" font-size="16" font-weight="bold" fill="#111">CC</text><line x1="46" y1="274.2" x2="127.1" y2="274.2" stroke="#8a8a8a" stroke-width="1.4"/><rect x="48.6" y="282.1" width="20.6" height="20.6" fill="#ff1414" stroke="#5a5a5a" stroke-opacity="0.7" stroke-width="1"/><text x="80" y="297.6" font-size="16" fill="#222">CC1</text><rect x="48.6" y="314.0" width="20.6" height="20.6" fill="#f8189a" stroke="#5a5a5a" stroke-opacity="0.7" stroke-width="1"/><text x="80" y="329.5" font-size="16" fill="#222">CC2</text><rect x="48.6" y="345.9" width="20.6" height="20.6" fill="#ff8000" stroke="#5a5a5a" stroke-opacity="0.7" stroke-width="1"/><text x="80" y="361.4" font-size="16" fill="#222">CC4</text><rect x="48.6" y="377.7" width="20.6" height="20.6" fill="#00dcc8" stroke="#5a5a5a" stroke-opacity="0.7" stroke-width="1"/><text x="80" y="393.2" font-size="16" fill="#222">CC5</text><rect x="48.6" y="409.6" width="20.6" height="20.6" fill="#a000ff" stroke="#5a5a5a" stroke-opacity="0.7" stroke-width="1"/><text x="80" y="425.1" font-size="16" fill="#222">CC6</text><rect x="48.6" y="441.5" width="20.6" height="20.6" fill="#6464ff" stroke="#5a5a5a" stroke-opacity="0.7" stroke-width="1"/><text x="80" y="457.0" font-size="16" fill="#222">CC7</text><rect x="48.6" y="473.4" width="20.6" height="20.6" fill="#60c08a" stroke="#5a5a5a" stroke-opacity="0.7" stroke-width="1"/><text x="80" y="488.9" font-size="16" fill="#222">CC8</text><rect x="48.6" y="505.3" width="20.6" height="20.6" fill="#888888" stroke="#5a5a5a" stroke-opacity="0.7" stroke-width="1"/><text x="80" y="520.8" font-size="16" fill="#222">CC9</text><rect x="48.6" y="537.1" width="20.6" height="20.6" fill="#00f07a" stroke="#5a5a5a" stroke-opacity="0.7" stroke-width="1"/><text x="80" y="552.6" font-size="16" fill="#222">CC11</text><rect x="48.6" y="569.0" width="20.6" height="20.6" fill="#ffb46e" stroke="#5a5a5a" stroke-opacity="0.7" stroke-width="1"/><text x="80" y="584.5" font-size="16" fill="#222">CC14</text><rect x="48.6" y="600.9" width="20.6" height="20.6" fill="#ffa0a0" stroke="#5a5a5a" stroke-opacity="0.7" stroke-width="1"/><text x="80" y="616.4" font-size="16" fill="#222">CC18</text><rect x="48.6" y="632.8" width="20.6" height="20.6" fill="#a08080" stroke="#5a5a5a" stroke-opacity="0.7" stroke-width="1"/><text x="80" y="648.3" font-size="16" fill="#222">CC29</text><rect x="48.6" y="664.7" width="20.6" height="20.6" fill="#6b5142" stroke="#5a5a5a" stroke-opacity="0.7" stroke-width="1"/><text x="80" y="680.2" font-size="16" fill="#222">CC37</text><rect x="48.6" y="696.5" width="20.6" height="20.6" fill="#ffff88" stroke="#5a5a5a" stroke-opacity="0.7" stroke-width="1"/><text x="80" y="712.0" font-size="16" fill="#222">CC121</text><rect x="48.6" y="728.4" width="20.6" height="20.6" fill="#0000ff" stroke="#5a5a5a" stroke-opacity="0.7" stroke-width="1"/><text x="80" y="743.9" font-size="16" fill="#222">CC155</text><rect x="48.6" y="760.3" width="20.6" height="20.6" fill="#333333" stroke="#5a5a5a" stroke-opacity="0.7" stroke-width="1"/><text x="80" y="775.8" font-size="16" fill="#222">CC204</text><rect x="48.6" y="792.2" width="20.6" height="20.6" fill="#ff5a8c" stroke="#5a5a5a" stroke-opacity="0.7" stroke-width="1"/><text x="80" y="807.7" font-size="16" fill="#222">CC217</text><rect x="48.6" y="824.1" width="20.6" height="20.6" fill="#90eee6" stroke="#5a5a5a" stroke-opacity="0.7" stroke-width="1"/><text x="80" y="839.6" font-size="16" fill="#222">CC412</text><rect x="48.6" y="855.9" width="20.6" height="20.6" fill="#3cb4ff" stroke="#5a5a5a" stroke-opacity="0.7" stroke-width="1"/><text x="80" y="871.4" font-size="16" fill="#222">CC451</text><rect x="48.6" y="887.8" width="20.6" height="20.6" fill="#b060ff" stroke="#5a5a5a" stroke-opacity="0.7" stroke-width="1"/><text x="80" y="903.3" font-size="16" fill="#222">CC554</text><rect x="48.6" y="919.7" width="20.6" height="20.6" fill="#ffffff" stroke="#5a5a5a" stroke-opacity="0.7" stroke-width="1"/><text x="80" y="935.2" font-size="16" fill="#222">Others</text><rect x="43.5" y="980.7" width="129.0" height="127.5" fill="#fff" stroke="#eeeeee" stroke-width="1"/><text x="48.2" y="998.2" font-size="16" font-weight="bold" fill="#111">Clinical Outcome</text><line x1="46" y1="1006.9" x2="169.0" y2="1006.9" stroke="#8a8a8a" stroke-width="1.4"/><rect x="48.6" y="1014.8" width="20.6" height="20.6" fill="#00aaff" stroke="#5a5a5a" stroke-opacity="0.7" stroke-width="1"/><text x="80" y="1030.3" font-size="16" fill="#222">CNS</text><rect x="48.6" y="1046.7" width="20.6" height="20.6" fill="#ffff00" stroke="#5a5a5a" stroke-opacity="0.7" stroke-width="1"/><text x="80" y="1062.2" font-size="16" fill="#222">MN</text><rect x="48.6" y="1078.6" width="20.6" height="20.6" fill="#008000" stroke="#5a5a5a" stroke-opacity="0.7" stroke-width="1"/><text x="80" y="1094.1" font-size="16" fill="#222">SI</text></g>
<text x="11.2" y="16.8" font-size="12.7" font-weight="bold" fill="#666" font-family="Liberation Sans, sans-serif">Tree scale: 0.1</text>
<path d="M108.6,12.7H155M108.6,9.6V15.8M155,9.6V15.8M131.8,12.7V14.2" stroke="#6e6e6e" stroke-width="1.4" fill="none"/>
</svg></body></html>
